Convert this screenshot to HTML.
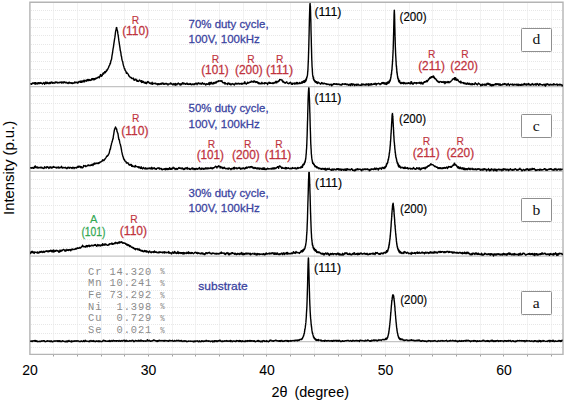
<!DOCTYPE html>
<html><head><meta charset="utf-8"><style>html,body{margin:0;padding:0;background:#fff;overflow:hidden}svg{display:block}</style></head>
<body>
<svg width="567" height="403" viewBox="0 0 567 403">
<rect width="567" height="403" fill="#fff"/>
<defs>
<clipPath id="cpd"><rect x="30.0" y="2.6" width="533.2" height="104.4"/></clipPath>
<clipPath id="cpc"><rect x="30.0" y="87.0" width="533.2" height="104.7"/></clipPath>
<clipPath id="cpb"><rect x="30.0" y="171.7" width="533.2" height="104.9"/></clipPath>
<clipPath id="cpa"><rect x="30.0" y="256.6" width="533.2" height="105.4"/></clipPath>
</defs>
<path d="M53.5,3V354 M77.5,3V354 M101.5,3V354 M124.5,3V354 M148.5,3V354 M172.5,3V354 M195.5,3V354 M219.5,3V354 M243.5,3V354 M266.5,3V354 M290.5,3V354 M314.5,3V354 M338.5,3V354 M361.5,3V354 M385.5,3V354 M409.5,3V354 M432.5,3V354 M456.5,3V354 M480.5,3V354 M503.5,3V354 M527.5,3V354 M551.5,3V354" stroke="#f2f2f2" stroke-width="1" fill="none"/>
<path d="M31,19.5H562 M31,35.5H562 M31,52.5H562 M31,69.5H562 M31,103.5H562 M31,120.5H562 M31,137.5H562 M31,154.5H562 M31,188.5H562 M31,205.5H562 M31,222.5H562 M31,239.5H562 M31,273.5H562 M31,290.5H562 M31,307.5H562 M31,324.5H562 M31,10.5H562 M31,27.5H562 M31,44.5H562 M31,61.5H562 M31,78.5H562 M31,95.5H562 M31,112.5H562 M31,128.5H562 M31,145.5H562 M31,162.5H562 M31,179.5H562 M31,196.5H562 M31,213.5H562 M31,230.5H562 M31,247.5H562 M31,264.5H562 M31,281.5H562 M31,298.5H562 M31,315.5H562 M31,333.5H562 M31,347.5H562" stroke="#e7e7e7" stroke-width="1" stroke-dasharray="1,1" fill="none"/>
<path d="M30,86.6H563 M30,171.3H563 M30,256.2H563 M30,341.6H563" stroke="#c4c4c4" stroke-width="1.3" fill="none"/>
<path d="M53.5,354V356.5 M77.5,354V356.5 M101.5,354V356.5 M124.5,354V356.5 M148.5,354V356.5 M172.5,354V356.5 M195.5,354V356.5 M219.5,354V356.5 M243.5,354V356.5 M266.5,354V356.5 M290.5,354V356.5 M314.5,354V356.5 M338.5,354V356.5 M361.5,354V356.5 M385.5,354V356.5 M409.5,354V356.5 M432.5,354V356.5 M456.5,354V356.5 M480.5,354V356.5 M503.5,354V356.5 M527.5,354V356.5 M551.5,354V356.5" stroke="#a0a0a0" stroke-width="1" fill="none"/>
<path d="M29.9,354.4V2.2H563V354.4Z" stroke="#b4b4b4" stroke-width="1.4" fill="none"/>
<path d="M30.30,84.33 L30.60,84.01 30.90,83.85 31.20,83.89 31.50,84.38 31.80,83.93 32.10,83.13 32.40,83.60 32.70,82.89 33.00,83.47 33.30,82.89 33.60,82.87 33.90,83.45 34.20,83.37 34.50,82.67 34.80,83.66 35.10,84.22 35.40,82.66 35.70,84.08 36.00,83.09 36.30,83.23 36.60,83.42 36.90,82.91 37.20,84.01 37.50,83.62 37.80,83.04 38.10,83.18 38.40,82.70 38.70,83.24 39.00,83.82 39.30,82.75 39.60,83.17 39.90,83.23 40.20,83.42 40.50,83.36 40.80,82.55 41.10,82.65 41.40,83.37 41.70,83.25 42.00,83.49 42.30,83.95 42.60,84.08 42.90,83.36 43.20,83.05 43.50,83.35 43.80,82.36 44.10,83.19 44.40,82.80 44.70,84.25 45.00,83.49 45.30,83.18 45.60,82.97 45.90,81.93 46.20,83.26 46.50,83.62 46.80,82.60 47.10,83.17 47.40,83.21 47.70,82.31 48.00,83.40 48.30,83.62 48.60,83.19 48.90,83.08 49.20,83.45 49.50,82.49 49.80,83.19 50.10,83.51 50.40,82.47 50.70,83.33 51.00,82.66 51.30,81.93 51.60,82.75 51.90,82.38 52.20,82.92 52.50,82.30 52.80,83.28 53.10,82.58 53.40,83.09 53.70,82.74 54.00,82.74 54.30,83.26 54.60,82.74 54.90,82.37 55.20,81.94 55.50,82.90 55.80,82.67 56.10,82.18 56.40,82.43 56.70,82.01 57.00,82.15 57.30,82.35 57.60,82.97 57.90,82.87 58.20,82.36 58.50,82.91 58.80,82.85 59.10,82.51 59.40,82.79 59.70,82.15 60.00,82.14 60.30,82.35 60.60,82.22 60.90,82.64 61.20,81.86 61.50,83.06 61.80,82.16 62.10,82.45 62.40,81.97 62.70,82.83 63.00,83.09 63.30,82.96 63.60,82.82 63.90,81.77 64.20,82.06 64.50,82.19 64.80,81.97 65.10,82.82 65.40,82.42 65.70,82.44 66.00,82.77 66.30,82.27 66.60,82.40 66.90,82.49 67.20,83.14 67.50,83.14 67.80,83.30 68.10,83.53 68.40,82.44 68.70,82.70 69.00,82.93 69.30,82.23 69.60,82.54 69.90,83.16 70.20,83.17 70.50,83.13 70.80,82.73 71.10,82.71 71.40,83.33 71.70,82.80 72.00,83.16 72.30,83.59 72.60,82.90 72.90,82.82 73.20,83.08 73.50,83.26 73.80,83.12 74.10,82.89 74.40,82.96 74.70,82.04 75.00,82.38 75.30,82.83 75.60,82.39 75.90,82.23 76.20,82.27 76.50,82.38 76.80,82.68 77.10,82.31 77.40,82.71 77.70,83.18 78.00,82.27 78.30,82.73 78.60,82.21 78.90,81.52 79.20,81.79 79.50,81.38 79.80,82.06 80.10,81.28 80.40,82.35 80.70,82.06 81.00,81.00 81.30,82.12 81.60,82.38 81.90,81.34 82.20,82.03 82.50,80.84 82.80,81.70 83.10,80.90 83.40,81.80 83.70,80.77 84.00,80.20 84.30,81.25 84.60,81.82 84.90,80.38 85.20,80.96 85.50,80.64 85.80,80.43 86.10,80.80 86.40,81.17 86.70,79.88 87.00,80.56 87.30,80.39 87.60,79.55 87.90,80.69 88.20,80.70 88.50,79.35 88.80,80.35 89.10,79.70 89.40,79.67 89.70,80.42 90.00,79.94 90.30,79.97 90.60,80.43 90.90,80.29 91.20,80.07 91.50,79.03 91.80,78.80 92.10,79.78 92.40,78.76 92.70,79.06 93.00,78.61 93.30,79.06 93.60,78.67 93.90,79.96 94.20,78.78 94.50,79.04 94.80,78.88 95.10,79.33 95.40,78.09 95.70,78.55 96.00,78.34 96.30,78.52 96.60,78.35 96.90,77.80 97.20,77.94 97.50,77.52 97.80,77.71 98.10,77.34 98.40,76.99 98.70,77.13 99.00,77.16 99.30,77.76 99.60,76.27 99.90,76.27 100.20,76.41 100.50,74.58 100.80,74.66 101.10,74.83 101.40,75.21 101.70,76.22 102.00,75.19 102.30,75.33 102.60,74.52 102.90,73.36 103.20,73.14 103.50,74.15 103.80,73.41 104.10,72.38 104.40,72.97 104.70,71.74 105.00,72.73 105.30,72.71 105.60,71.62 105.90,71.17 106.20,71.61 106.50,70.39 106.80,70.78 107.10,69.49 107.40,69.96 107.70,69.25 108.00,68.59 108.30,67.93 108.60,67.74 108.90,66.13 109.20,66.05 109.50,65.19 109.80,64.85 110.10,63.22 110.40,63.59 110.70,61.80 111.00,60.33 111.30,60.11 111.60,58.80 111.90,56.48 112.20,54.57 112.50,53.12 112.80,50.75 113.10,48.71 113.40,47.30 113.70,44.82 114.00,42.81 114.30,40.98 114.60,38.86 114.90,37.15 115.20,34.86 115.50,32.20 115.80,30.52 116.10,29.60 116.40,27.67 116.70,27.58 117.00,29.57 117.30,30.23 117.60,31.33 117.90,33.88 118.20,35.43 118.50,37.77 118.80,40.19 119.10,42.18 119.40,44.04 119.70,46.17 120.00,48.10 120.30,50.59 120.60,51.48 120.90,53.18 121.20,55.87 121.50,56.37 121.80,58.78 122.10,60.20 122.40,60.95 122.70,61.66 123.00,63.62 123.30,64.83 123.60,65.99 123.90,66.60 124.20,67.98 124.50,68.90 124.80,68.66 125.10,70.44 125.40,70.62 125.70,70.98 126.00,71.71 126.30,73.24 126.60,73.34 126.90,72.45 127.20,73.47 127.50,73.58 127.80,73.76 128.10,74.20 128.40,74.37 128.70,75.90 129.00,75.67 129.30,76.29 129.60,76.49 129.90,76.72 130.20,77.58 130.50,77.65 130.80,77.39 131.10,77.44 131.40,77.79 131.70,78.53 132.00,78.29 132.30,78.43 132.60,78.29 132.90,78.40 133.20,78.82 133.50,78.24 133.80,79.98 134.10,79.24 134.40,79.50 134.70,80.25 135.00,79.73 135.30,79.60 135.60,79.28 135.90,79.10 136.20,80.08 136.50,80.74 136.80,80.10 137.10,81.24 137.40,80.35 137.70,80.68 138.00,81.35 138.30,81.21 138.60,81.40 138.90,80.70 139.20,80.47 139.50,80.00 139.80,80.45 140.10,80.66 140.40,80.67 140.70,81.55 141.00,81.19 141.30,80.63 141.60,82.50 141.90,81.10 142.20,80.97 142.50,82.18 142.80,82.31 143.10,81.49 143.40,81.51 143.70,81.85 144.00,82.88 144.30,82.41 144.60,82.33 144.90,82.76 145.20,83.35 145.50,82.34 145.80,82.84 146.10,82.39 146.40,83.67 146.70,83.30 147.00,82.72 147.30,82.04 147.60,82.49 147.90,81.45 148.20,82.57 148.50,82.01 148.80,82.14 149.10,82.52 149.40,82.80 149.70,83.31 150.00,83.48 150.30,83.39 150.60,82.98 150.90,83.76 151.20,83.52 151.50,84.02 151.80,83.10 152.10,82.28 152.40,83.19 152.70,84.25 153.00,83.50 153.30,83.17 153.60,83.58 153.90,83.42 154.20,83.50 154.50,83.19 154.80,83.54 155.10,83.69 155.40,83.34 155.70,83.14 156.00,83.67 156.30,84.02 156.60,83.89 156.90,83.84 157.20,83.85 157.50,84.73 157.80,83.74 158.10,84.05 158.40,84.41 158.70,83.59 159.00,83.65 159.30,84.06 159.60,84.42 159.90,83.92 160.20,84.02 160.50,83.93 160.80,83.38 161.10,84.36 161.40,83.78 161.70,83.15 162.00,83.79 162.30,83.10 162.60,83.38 162.90,83.79 163.20,83.39 163.50,84.22 163.80,83.15 164.10,83.87 164.40,83.94 164.70,84.25 165.00,83.96 165.30,83.60 165.60,83.51 165.90,83.51 166.20,84.07 166.50,83.37 166.80,83.92 167.10,83.78 167.40,84.04 167.70,83.94 168.00,85.07 168.30,83.87 168.60,84.16 168.90,84.08 169.20,84.13 169.50,83.97 169.80,83.88 170.10,84.03 170.40,82.90 170.70,83.45 171.00,83.12 171.30,83.93 171.60,83.52 171.90,83.81 172.20,84.21 172.50,84.77 172.80,84.38 173.10,84.21 173.40,84.67 173.70,83.79 174.00,83.42 174.30,84.23 174.60,84.40 174.90,84.90 175.20,85.14 175.50,83.55 175.80,85.01 176.10,84.56 176.40,84.22 176.70,83.99 177.00,84.82 177.30,83.79 177.60,83.49 177.90,83.68 178.20,82.98 178.50,83.69 178.80,83.63 179.10,84.01 179.40,84.21 179.70,83.80 180.00,84.92 180.30,84.03 180.60,84.91 180.90,83.95 181.20,84.76 181.50,84.03 181.80,84.16 182.10,83.64 182.40,82.77 182.70,83.23 183.00,83.74 183.30,83.99 183.60,83.12 183.90,82.90 184.20,83.52 184.50,83.88 184.80,83.79 185.10,83.74 185.40,84.34 185.70,84.29 186.00,84.10 186.30,83.30 186.60,83.76 186.90,83.69 187.20,83.20 187.50,84.21 187.80,83.89 188.10,83.64 188.40,84.44 188.70,84.16 189.00,84.20 189.30,84.39 189.60,84.22 189.90,83.42 190.20,83.83 190.50,84.47 190.80,83.79 191.10,84.19 191.40,84.40 191.70,84.81 192.00,84.68 192.30,84.44 192.60,83.91 192.90,84.34 193.20,84.24 193.50,84.01 193.80,84.71 194.10,84.40 194.40,83.79 194.70,84.54 195.00,83.81 195.30,84.08 195.60,83.19 195.90,83.87 196.20,83.53 196.50,83.57 196.80,83.15 197.10,84.69 197.40,83.55 197.70,83.55 198.00,83.74 198.30,83.27 198.60,83.58 198.90,82.84 199.20,83.54 199.50,83.39 199.80,83.93 200.10,83.94 200.40,83.43 200.70,83.31 201.00,83.56 201.30,84.20 201.60,83.97 201.90,83.86 202.20,82.92 202.50,82.71 202.80,83.66 203.10,83.86 203.40,83.76 203.70,84.16 204.00,83.93 204.30,83.49 204.60,83.63 204.90,84.11 205.20,84.13 205.50,84.11 205.80,85.15 206.10,84.04 206.40,84.16 206.70,83.64 207.00,83.87 207.30,84.23 207.60,84.25 207.90,83.95 208.20,84.18 208.50,84.01 208.80,83.10 209.10,82.42 209.40,84.69 209.70,83.97 210.00,83.53 210.30,82.76 210.60,82.90 210.90,83.95 211.20,82.15 211.50,83.17 211.80,83.64 212.10,83.30 212.40,83.53 212.70,83.13 213.00,84.17 213.30,82.69 213.60,82.51 213.90,83.10 214.20,83.48 214.50,82.73 214.80,83.08 215.10,82.32 215.40,81.98 215.70,83.02 216.00,83.01 216.30,82.90 216.60,81.93 216.90,81.49 217.20,81.35 217.50,81.62 217.80,81.82 218.10,81.64 218.40,80.64 218.70,81.26 219.00,81.06 219.30,80.99 219.60,80.89 219.90,80.80 220.20,81.18 220.50,80.98 220.80,81.06 221.10,80.71 221.40,81.25 221.70,81.33 222.00,80.76 222.30,82.19 222.60,82.14 222.90,82.85 223.20,82.53 223.50,82.69 223.80,82.94 224.10,82.97 224.40,82.93 224.70,82.48 225.00,84.16 225.30,82.82 225.60,83.37 225.90,83.80 226.20,83.69 226.50,83.78 226.80,83.83 227.10,83.99 227.40,83.52 227.70,84.57 228.00,82.87 228.30,83.41 228.60,83.18 228.90,83.11 229.20,83.48 229.50,84.17 229.80,83.45 230.10,83.65 230.40,84.46 230.70,84.40 231.00,84.92 231.30,84.45 231.60,84.03 231.90,83.77 232.20,84.08 232.50,83.99 232.80,83.56 233.10,84.22 233.40,84.17 233.70,84.17 234.00,84.11 234.30,85.02 234.60,84.48 234.90,84.38 235.20,83.52 235.50,83.15 235.80,83.35 236.10,83.66 236.40,83.49 236.70,83.64 237.00,84.20 237.30,83.92 237.60,83.38 237.90,83.62 238.20,83.52 238.50,83.88 238.80,83.31 239.10,83.73 239.40,84.10 239.70,83.82 240.00,83.41 240.30,83.53 240.60,83.83 240.90,83.97 241.20,84.09 241.50,83.64 241.80,83.11 242.10,84.23 242.40,83.73 242.70,83.76 243.00,83.70 243.30,83.11 243.60,83.36 243.90,83.47 244.20,83.66 244.50,83.11 244.80,81.62 245.10,82.91 245.40,83.22 245.70,83.68 246.00,83.49 246.30,84.21 246.60,83.67 246.90,83.55 247.20,83.29 247.50,82.23 247.80,83.18 248.10,83.07 248.40,82.58 248.70,83.04 249.00,82.84 249.30,82.32 249.60,82.33 249.90,82.12 250.20,82.25 250.50,81.93 250.80,82.31 251.10,81.18 251.40,81.83 251.70,81.12 252.00,81.56 252.30,81.93 252.60,81.66 252.90,81.52 253.20,81.55 253.50,82.19 253.80,81.01 254.10,81.94 254.40,80.97 254.70,81.53 255.00,81.92 255.30,81.59 255.60,82.15 255.90,82.48 256.20,81.75 256.50,82.33 256.80,82.26 257.10,81.65 257.40,82.46 257.70,82.24 258.00,83.24 258.30,82.38 258.60,83.56 258.90,82.69 259.20,83.80 259.50,83.23 259.80,83.21 260.10,83.38 260.40,83.43 260.70,83.74 261.00,83.97 261.30,83.17 261.60,82.88 261.90,82.30 262.20,83.26 262.50,83.74 262.80,83.57 263.10,83.47 263.40,83.32 263.70,83.25 264.00,83.45 264.30,83.78 264.60,82.75 264.90,83.68 265.20,82.63 265.50,83.05 265.80,82.91 266.10,83.18 266.40,83.04 266.70,83.15 267.00,83.60 267.30,83.13 267.60,84.51 267.90,83.18 268.20,82.96 268.50,83.00 268.80,82.77 269.10,82.18 269.40,83.11 269.70,83.36 270.00,82.62 270.30,83.28 270.60,82.79 270.90,83.28 271.20,83.41 271.50,83.42 271.80,83.35 272.10,82.81 272.40,83.52 272.70,82.98 273.00,83.34 273.30,83.52 273.60,83.02 273.90,82.50 274.20,83.19 274.50,82.33 274.80,82.31 275.10,82.11 275.40,82.83 275.70,82.27 276.00,81.22 276.30,82.41 276.60,82.87 276.90,82.61 277.20,81.43 277.50,81.63 277.80,81.76 278.10,81.85 278.40,81.38 278.70,80.70 279.00,81.17 279.30,80.77 279.60,79.58 279.90,79.75 280.20,79.83 280.50,79.58 280.80,79.77 281.10,79.92 281.40,80.00 281.70,80.01 282.00,79.80 282.30,81.02 282.60,81.64 282.90,82.02 283.20,81.25 283.50,81.35 283.80,82.07 284.10,82.47 284.40,82.38 284.70,82.91 285.00,82.62 285.30,83.23 285.60,82.49 285.90,82.63 286.20,82.48 286.50,82.29 286.80,81.79 287.10,82.53 287.40,83.21 287.70,83.22 288.00,83.12 288.30,83.50 288.60,83.65 288.90,83.74 289.20,82.97 289.50,83.21 289.80,82.94 290.10,82.59 290.40,82.29 290.70,83.01 291.00,82.81 291.30,84.23 291.60,83.40 291.90,83.40 292.20,83.38 292.50,84.40 292.80,83.25 293.10,83.57 293.40,83.28 293.70,83.52 294.00,83.52 294.30,83.97 294.60,82.88 294.90,83.45 295.20,84.13 295.50,83.20 295.80,83.38 296.10,83.12 296.40,82.42 296.70,83.52 297.00,84.03 297.30,83.26 297.60,82.60 297.90,83.43 298.20,83.29 298.50,83.68 298.80,83.62 299.10,83.10 299.40,83.37 299.70,82.37 300.00,83.54 300.30,83.07 300.60,83.38 300.90,83.34 301.20,82.76 301.40,82.82 301.50,82.50 301.60,81.99 301.70,82.81 301.80,82.93 301.90,82.39 302.00,83.16 302.10,82.83 302.20,82.92 302.30,82.33 302.40,81.83 302.50,82.86 302.60,82.72 302.70,82.34 302.80,82.14 302.90,82.13 303.00,82.12 303.10,81.88 303.20,81.15 303.30,82.29 303.40,81.29 303.50,81.79 303.60,81.80 303.70,82.04 303.80,81.21 303.90,82.42 304.00,82.17 304.10,82.20 304.20,82.40 304.30,81.47 304.40,80.42 304.50,81.91 304.60,82.31 304.70,82.14 304.80,81.27 304.90,81.35 305.00,81.40 305.10,80.34 305.20,80.72 305.30,80.59 305.40,81.44 305.50,80.29 305.60,81.12 305.70,80.26 305.80,79.32 305.90,80.90 306.00,79.28 306.10,79.81 306.20,80.11 306.30,78.87 306.40,78.32 306.50,79.11 306.60,78.39 306.70,77.49 306.80,77.23 306.90,77.19 307.00,77.42 307.10,76.37 307.20,76.31 307.30,76.25 307.40,75.45 307.50,74.80 307.60,73.86 307.70,71.42 307.80,71.71 307.90,69.89 308.00,68.09 308.10,65.75 308.20,63.38 308.30,61.29 308.40,59.27 308.50,55.62 308.60,52.58 308.70,49.15 308.80,46.19 308.90,41.51 309.00,37.39 309.10,34.13 309.20,28.54 309.30,24.93 309.40,19.46 309.50,16.65 309.60,12.94 309.70,9.93 309.80,6.90 309.90,4.49 310.00,3.92 310.10,3.35 310.20,5.01 310.30,6.03 310.40,6.08 310.50,10.15 310.60,12.33 310.70,16.67 310.80,19.86 310.90,23.30 311.00,29.56 311.10,33.53 311.20,36.66 311.30,40.44 311.40,45.43 311.50,48.82 311.60,52.90 311.70,56.76 311.80,60.20 311.90,61.77 312.00,65.10 312.10,67.04 312.20,67.98 312.30,68.91 312.40,71.59 312.50,72.70 312.60,74.64 312.70,75.10 312.80,75.58 312.90,76.71 313.00,76.00 313.10,77.13 313.20,77.39 313.30,78.76 313.40,78.58 313.50,77.24 313.60,79.61 313.70,78.85 313.80,79.84 313.90,79.45 314.00,79.96 314.10,80.30 314.20,80.25 314.30,79.87 314.40,81.06 314.50,80.73 314.60,80.66 314.70,81.08 314.80,80.63 314.90,81.79 315.00,81.14 315.10,81.32 315.20,81.42 315.30,80.96 315.40,80.95 315.50,81.66 315.60,81.81 315.70,82.33 315.80,82.02 315.90,81.43 316.00,82.21 316.10,82.42 316.20,82.56 316.30,82.34 316.40,81.72 316.50,82.82 316.60,82.06 316.70,82.68 316.80,81.80 316.90,82.87 317.00,82.25 317.10,83.11 317.40,83.54 317.70,83.34 318.00,82.27 318.30,82.29 318.60,82.23 318.90,82.80 319.20,82.91 319.50,83.06 319.80,83.36 320.10,83.70 320.40,83.78 320.70,84.19 321.00,83.40 321.30,83.47 321.60,82.58 321.90,82.87 322.20,83.19 322.50,83.04 322.80,83.69 323.10,84.01 323.40,83.36 323.70,83.31 324.00,83.27 324.30,83.55 324.60,83.28 324.90,83.71 325.20,83.68 325.50,83.73 325.80,83.96 326.10,83.71 326.40,83.82 326.70,84.55 327.00,83.93 327.30,84.42 327.60,84.24 327.90,84.16 328.20,84.26 328.50,84.17 328.80,84.60 329.10,84.41 329.40,84.49 329.70,85.08 330.00,84.41 330.30,84.84 330.60,84.37 330.90,84.71 331.20,84.17 331.50,84.58 331.80,85.72 332.10,84.93 332.40,84.92 332.70,84.51 333.00,84.69 333.30,83.74 333.60,83.77 333.90,84.21 334.20,84.27 334.50,83.64 334.80,83.88 335.10,83.96 335.40,84.18 335.70,83.89 336.00,83.86 336.30,84.46 336.60,83.78 336.90,84.13 337.20,84.26 337.50,84.04 337.80,84.53 338.10,84.18 338.40,84.28 338.70,83.94 339.00,84.10 339.30,84.68 339.60,84.67 339.90,84.35 340.20,84.72 340.50,84.67 340.80,84.68 341.10,85.26 341.40,84.32 341.70,84.57 342.00,84.48 342.30,84.10 342.60,83.67 342.90,84.41 343.20,84.19 343.50,84.06 343.80,84.09 344.10,84.17 344.40,83.87 344.70,84.46 345.00,83.63 345.30,84.38 345.60,83.77 345.90,84.25 346.20,84.70 346.50,84.28 346.80,84.17 347.10,84.58 347.40,84.24 347.70,84.24 348.00,84.34 348.30,85.23 348.60,84.97 348.90,84.97 349.20,84.31 349.50,85.12 349.80,84.37 350.10,85.16 350.40,84.35 350.70,85.49 351.00,83.81 351.30,84.89 351.60,84.71 351.90,83.70 352.20,84.43 352.50,85.21 352.80,85.14 353.10,83.97 353.40,84.47 353.70,84.21 354.00,84.29 354.30,84.43 354.60,85.46 354.90,84.73 355.20,84.56 355.50,84.52 355.80,84.96 356.10,85.00 356.40,84.34 356.70,85.33 357.00,84.15 357.30,84.39 357.60,84.60 357.90,85.03 358.20,84.24 358.50,84.58 358.80,85.08 359.10,84.87 359.40,85.17 359.70,85.22 360.00,84.97 360.30,85.22 360.60,85.37 360.90,84.88 361.20,85.48 361.50,83.89 361.80,84.25 362.10,85.15 362.40,84.62 362.70,84.07 363.00,84.40 363.30,84.72 363.60,84.11 363.90,84.75 364.20,84.46 364.50,84.53 364.80,84.59 365.10,85.13 365.40,84.23 365.70,84.59 366.00,84.96 366.30,84.10 366.60,83.89 366.90,84.73 367.20,84.42 367.50,84.30 367.80,84.35 368.10,83.81 368.40,85.45 368.70,83.95 369.00,84.32 369.30,84.05 369.60,84.61 369.90,85.23 370.20,84.41 370.50,84.45 370.80,83.80 371.10,84.78 371.40,84.20 371.70,83.71 372.00,84.67 372.30,84.25 372.60,84.61 372.90,84.37 373.20,84.37 373.50,84.27 373.80,83.73 374.10,83.39 374.40,84.33 374.70,83.77 375.00,84.01 375.30,83.84 375.60,83.33 375.90,83.79 376.20,84.99 376.50,83.99 376.80,84.08 377.10,83.54 377.40,83.86 377.70,83.80 378.00,83.74 378.30,83.67 378.60,83.31 378.90,83.36 379.20,83.69 379.50,83.93 379.80,83.83 380.10,84.66 380.40,83.92 380.70,83.81 381.00,83.37 381.30,83.98 381.60,82.99 381.90,82.61 382.20,82.76 382.50,83.30 382.80,82.55 383.10,83.64 383.40,83.14 383.70,82.56 384.00,83.15 384.30,84.04 384.60,82.95 384.90,82.79 385.20,83.59 385.40,83.92 385.50,83.79 385.60,83.22 385.70,83.43 385.80,83.48 385.90,83.84 386.00,84.25 386.05,83.28 386.10,83.88 386.15,83.17 386.20,83.57 386.25,82.91 386.30,82.98 386.35,83.48 386.40,82.92 386.45,83.67 386.50,83.05 386.55,83.31 386.60,83.22 386.65,83.10 386.70,83.28 386.75,83.67 386.80,84.52 386.85,82.67 386.90,83.29 386.95,83.07 387.00,82.74 387.05,83.24 387.10,82.72 387.15,83.05 387.20,83.59 387.25,82.18 387.30,83.13 387.35,83.20 387.40,82.58 387.45,83.19 387.50,83.10 387.55,82.78 387.60,83.42 387.65,82.32 387.70,83.14 387.75,82.74 387.80,82.36 387.85,82.72 387.90,82.62 387.95,83.10 388.00,82.09 388.05,82.63 388.10,82.49 388.15,83.34 388.20,82.16 388.25,83.07 388.30,81.83 388.35,82.70 388.40,82.47 388.45,82.66 388.50,82.16 388.55,81.59 388.60,81.73 388.65,82.93 388.70,82.41 388.75,81.91 388.80,82.63 388.85,81.88 388.90,81.83 388.95,81.58 389.00,82.57 389.05,82.86 389.10,81.53 389.15,82.03 389.20,82.28 389.25,82.72 389.30,80.69 389.35,81.74 389.40,81.90 389.45,80.90 389.50,81.65 389.55,81.49 389.60,81.64 389.65,80.98 389.70,81.34 389.75,80.79 389.80,81.24 389.85,80.94 389.90,80.59 389.95,80.02 390.00,81.27 390.05,80.91 390.10,80.69 390.15,79.86 390.20,79.86 390.25,80.63 390.30,80.06 390.35,79.18 390.40,79.42 390.45,79.28 390.50,78.92 390.55,78.38 390.60,79.18 390.65,78.66 390.70,78.07 390.75,77.19 390.80,77.40 390.85,77.42 390.90,77.57 390.95,76.71 391.00,77.13 391.05,76.37 391.10,75.64 391.15,74.33 391.20,74.79 391.25,74.29 391.30,74.59 391.35,74.47 391.40,74.62 391.45,73.54 391.50,72.56 391.55,73.91 391.60,72.46 391.65,71.73 391.70,71.27 391.75,70.27 391.80,70.84 391.85,70.23 391.90,70.39 391.95,69.63 392.00,68.99 392.05,68.67 392.10,67.29 392.15,66.63 392.20,66.25 392.25,64.98 392.30,64.96 392.35,64.20 392.40,64.09 392.45,63.00 392.50,61.19 392.55,61.54 392.60,61.57 392.65,58.85 392.70,58.63 392.75,58.21 392.80,56.47 392.85,55.98 392.90,55.34 392.95,53.44 393.00,53.34 393.05,52.22 393.10,49.89 393.15,49.40 393.20,48.71 393.25,46.42 393.30,45.30 393.35,43.84 393.40,41.55 393.45,40.62 393.50,38.35 393.55,35.43 393.60,34.51 393.65,32.68 393.70,30.50 393.75,27.22 393.80,25.86 393.85,24.37 393.90,21.32 393.95,20.01 394.00,18.16 394.05,15.30 394.10,14.33 394.15,12.28 394.20,12.45 394.25,10.90 394.30,10.30 394.35,10.93 394.40,11.47 394.45,12.77 394.50,14.09 394.55,14.29 394.60,16.47 394.65,19.21 394.70,21.37 394.75,23.20 394.80,27.34 394.85,28.36 394.90,29.62 394.95,32.35 395.00,34.86 395.05,36.15 395.10,36.57 395.15,39.72 395.20,41.44 395.25,44.54 395.30,43.45 395.35,47.23 395.40,47.54 395.45,49.62 395.50,50.14 395.55,51.68 395.60,53.47 395.65,53.94 395.70,55.62 395.75,55.95 395.80,56.75 395.85,57.81 395.90,58.55 395.95,59.66 396.00,61.36 396.05,60.70 396.10,61.20 396.15,62.90 396.20,64.59 396.25,64.92 396.30,65.75 396.35,66.36 396.40,65.90 396.45,66.98 396.50,66.07 396.55,67.75 396.60,68.96 396.65,68.35 396.70,68.62 396.75,69.53 396.80,70.81 396.85,71.78 396.90,72.96 396.95,72.79 397.00,71.70 397.05,71.69 397.10,73.31 397.15,74.14 397.20,73.16 397.25,74.05 397.30,74.42 397.35,74.97 397.40,75.18 397.45,75.81 397.50,76.36 397.55,76.16 397.60,76.75 397.65,77.59 397.70,76.41 397.75,76.63 397.80,77.59 397.85,78.44 397.90,77.86 397.95,78.48 398.00,78.03 398.05,78.77 398.10,78.24 398.15,79.00 398.20,79.03 398.25,79.21 398.30,79.82 398.35,79.84 398.40,79.24 398.45,80.06 398.50,79.04 398.55,80.38 398.60,81.30 398.65,80.43 398.70,80.54 398.75,80.45 398.80,80.90 398.85,80.44 398.90,81.04 398.95,80.71 399.00,80.74 399.05,81.07 399.10,81.07 399.15,80.41 399.20,82.16 399.25,81.38 399.30,80.65 399.35,81.93 399.40,81.51 399.45,81.67 399.50,81.94 399.55,81.32 399.60,80.51 399.65,81.82 399.70,82.03 399.75,82.43 399.80,81.73 399.85,82.01 399.90,82.36 399.95,82.11 400.00,82.20 400.10,82.53 400.20,82.10 400.30,83.31 400.40,82.33 400.50,82.84 400.60,82.77 400.70,82.70 400.80,83.32 400.90,83.53 401.00,83.72 401.10,83.34 401.20,82.90 401.40,83.45 401.70,82.45 402.00,83.06 402.30,83.25 402.60,83.26 402.90,82.52 403.20,82.37 403.50,83.73 403.80,82.87 404.10,82.45 404.40,82.69 404.70,83.28 405.00,83.74 405.30,83.20 405.60,83.66 405.90,83.21 406.20,83.34 406.50,83.62 406.80,83.10 407.10,83.45 407.40,83.18 407.70,83.02 408.00,83.51 408.30,82.82 408.60,83.14 408.90,82.84 409.20,83.21 409.50,83.09 409.80,83.84 410.10,83.35 410.40,83.23 410.70,83.77 411.00,81.71 411.30,82.45 411.60,81.95 411.90,83.31 412.20,83.70 412.50,83.98 412.80,83.69 413.10,83.08 413.40,84.06 413.70,83.31 414.00,82.98 414.30,82.53 414.60,83.11 414.90,82.64 415.20,82.63 415.50,82.99 415.80,83.08 416.10,82.72 416.40,83.68 416.70,82.70 417.00,82.63 417.30,83.21 417.60,83.11 417.90,83.09 418.20,82.90 418.50,83.11 418.80,82.86 419.10,82.37 419.40,83.28 419.70,82.41 420.00,82.63 420.30,82.92 420.60,82.69 420.90,83.93 421.20,82.22 421.50,82.57 421.80,83.07 422.10,83.79 422.40,83.28 422.70,82.94 423.00,84.03 423.30,82.73 423.60,82.63 423.90,82.68 424.20,81.59 424.50,81.71 424.80,82.14 425.10,81.85 425.40,82.07 425.70,81.41 426.00,81.60 426.30,80.98 426.60,80.58 426.90,81.86 427.20,81.14 427.50,81.18 427.80,80.16 428.10,80.39 428.40,79.92 428.70,78.95 429.00,79.41 429.30,78.39 429.60,78.29 429.90,77.41 430.20,78.30 430.50,77.91 430.80,77.50 431.10,76.71 431.40,76.75 431.70,77.49 432.00,76.74 432.30,76.85 432.60,76.72 432.90,76.11 433.20,77.44 433.50,76.00 433.80,77.39 434.10,77.63 434.40,77.32 434.70,78.58 435.00,78.80 435.30,78.73 435.60,78.46 435.90,79.19 436.20,79.85 436.50,79.78 436.80,80.79 437.10,80.70 437.40,81.03 437.70,81.71 438.00,81.18 438.30,81.61 438.60,82.27 438.90,82.15 439.20,82.46 439.50,82.15 439.80,81.57 440.10,81.68 440.40,81.54 440.70,81.57 441.00,81.59 441.30,82.29 441.60,81.80 441.90,81.96 442.20,82.29 442.50,82.08 442.80,82.23 443.10,81.40 443.40,82.53 443.70,82.25 444.00,82.54 444.30,82.68 444.60,81.77 444.90,83.68 445.20,82.68 445.50,82.62 445.80,81.69 446.10,82.67 446.40,82.49 446.70,82.05 447.00,82.20 447.30,82.54 447.60,81.70 447.90,81.45 448.20,82.43 448.50,81.94 448.80,81.72 449.10,82.84 449.40,81.95 449.70,81.85 450.00,82.09 450.30,81.73 450.60,81.75 450.90,81.45 451.20,80.81 451.50,80.70 451.80,80.47 452.10,80.01 452.40,79.61 452.70,79.21 453.00,78.81 453.30,78.95 453.60,78.58 453.90,78.70 454.20,79.31 454.50,77.78 454.80,78.78 455.10,80.03 455.40,77.69 455.70,79.43 456.00,78.15 456.30,79.38 456.60,80.24 456.90,80.36 457.20,79.40 457.50,79.38 457.80,79.47 458.10,80.68 458.40,80.55 458.70,81.09 459.00,81.56 459.30,81.97 459.60,82.14 459.90,82.06 460.20,81.38 460.50,82.82 460.80,81.09 461.10,82.98 461.40,82.30 461.70,82.59 462.00,82.55 462.30,82.67 462.60,82.87 462.90,82.80 463.20,82.48 463.50,83.39 463.80,82.83 464.10,83.72 464.40,83.12 464.70,82.96 465.00,83.54 465.30,83.81 465.60,83.11 465.90,83.48 466.20,84.32 466.50,83.39 466.80,83.56 467.10,84.10 467.40,83.50 467.70,82.95 468.00,83.27 468.30,84.12 468.60,84.21 468.90,84.15 469.20,84.03 469.50,83.30 469.80,84.14 470.10,84.47 470.40,83.82 470.70,84.65 471.00,84.23 471.30,84.41 471.60,84.43 471.90,83.59 472.20,84.78 472.50,83.78 472.80,84.09 473.10,83.92 473.40,84.32 473.70,84.30 474.00,84.09 474.30,84.64 474.60,84.12 474.90,83.80 475.20,82.77 475.50,83.90 475.80,83.92 476.10,83.70 476.40,83.72 476.70,84.34 477.00,84.53 477.30,84.90 477.60,84.53 477.90,83.61 478.20,83.88 478.50,83.05 478.80,83.80 479.10,83.91 479.40,83.77 479.70,84.24 480.00,84.45 480.30,84.36 480.60,85.16 480.90,85.89 481.20,84.90 481.50,84.96 481.80,84.54 482.10,84.27 482.40,85.30 482.70,84.17 483.00,84.58 483.30,84.45 483.60,84.84 483.90,84.66 484.20,84.94 484.50,84.11 484.80,84.57 485.10,85.15 485.40,84.11 485.70,84.26 486.00,85.12 486.30,84.71 486.60,84.99 486.90,83.41 487.20,84.22 487.50,83.43 487.80,83.19 488.10,83.99 488.40,84.47 488.70,83.50 489.00,83.82 489.30,84.16 489.60,84.40 489.90,83.95 490.20,85.52 490.50,84.87 490.80,84.54 491.10,84.55 491.40,85.83 491.70,85.87 492.00,84.75 492.30,85.12 492.60,85.52 492.90,84.51 493.20,84.76 493.50,85.56 493.80,84.67 494.10,84.75 494.40,84.34 494.70,84.41 495.00,84.84 495.30,84.03 495.60,83.65 495.90,83.83 496.20,84.78 496.50,84.04 496.80,83.65 497.10,83.97 497.40,84.29 497.70,84.34 498.00,83.71 498.30,84.79 498.60,84.54 498.90,84.95 499.20,83.98 499.50,84.97 499.80,84.34 500.10,83.89 500.40,85.24 500.70,84.53 501.00,84.92 501.30,84.62 501.60,85.08 501.90,85.01 502.20,84.94 502.50,84.80 502.80,83.83 503.10,83.83 503.40,84.65 503.70,84.09 504.00,84.58 504.30,84.34 504.60,83.55 504.90,83.68 505.20,83.77 505.50,84.01 505.80,84.43 506.10,84.94 506.40,85.16 506.70,84.12 507.00,84.23 507.30,85.07 507.60,84.81 507.90,84.58 508.20,83.54 508.50,84.16 508.80,84.70 509.10,84.39 509.40,85.49 509.70,84.69 510.00,84.78 510.30,84.16 510.60,84.14 510.90,84.26 511.20,84.24 511.50,84.41 511.80,84.70 512.10,84.68 512.40,85.03 512.70,84.04 513.00,84.68 513.30,84.68 513.60,85.23 513.90,84.44 514.20,84.72 514.50,84.29 514.80,84.87 515.10,84.91 515.40,84.48 515.70,84.54 516.00,84.70 516.30,84.94 516.60,84.17 516.90,84.97 517.20,84.38 517.50,85.26 517.80,85.00 518.10,84.21 518.40,84.11 518.70,85.42 519.00,84.64 519.30,84.72 519.60,84.45 519.90,84.74 520.20,85.29 520.50,85.28 520.80,84.54 521.10,85.29 521.40,84.77 521.70,84.11 522.00,85.01 522.30,84.59 522.60,85.07 522.90,84.58 523.20,84.97 523.50,84.08 523.80,84.89 524.10,84.05 524.40,84.71 524.70,83.50 525.00,84.49 525.30,84.76 525.60,84.59 525.90,84.88 526.20,83.91 526.50,85.01 526.80,85.02 527.10,83.86 527.40,84.09 527.70,84.25 528.00,84.54 528.30,84.67 528.60,83.55 528.90,84.86 529.20,84.51 529.50,84.20 529.80,85.06 530.10,84.53 530.40,85.19 530.70,84.95 531.00,84.52 531.30,85.02 531.60,84.74 531.90,84.06 532.20,83.52 532.50,84.01 532.80,84.55 533.10,84.24 533.40,85.13 533.70,84.53 534.00,84.53 534.30,84.66 534.60,84.15 534.90,84.56 535.20,84.44 535.50,83.84 535.80,84.20 536.10,85.25 536.40,84.48 536.70,84.35 537.00,83.51 537.30,83.62 537.60,84.39 537.90,84.29 538.20,84.22 538.50,85.28 538.80,84.62 539.10,84.43 539.40,85.00 539.70,83.71 540.00,84.66 540.30,84.02 540.60,84.22 540.90,84.33 541.20,84.75 541.50,84.67 541.80,84.69 542.10,84.59 542.40,85.03 542.70,85.17 543.00,84.82 543.30,84.90 543.60,84.47 543.90,84.23 544.20,85.03 544.50,84.88 544.80,85.31 545.10,84.25 545.40,86.08 545.70,84.32 546.00,84.80 546.30,85.12 546.60,84.09 546.90,84.45 547.20,83.83 547.50,84.09 547.80,83.87 548.10,84.73 548.40,84.81 548.70,84.55 549.00,85.21 549.30,85.19 549.60,84.52 549.90,84.36 550.20,84.26 550.50,84.22 550.80,85.05 551.10,84.69 551.40,84.53 551.70,84.62 552.00,84.89 552.30,84.44 552.60,84.70 552.90,84.50 553.20,85.04 553.50,84.92 553.80,83.79 554.10,84.28 554.40,84.67 554.70,84.23 555.00,84.82 555.30,84.67 555.60,84.81 555.90,84.52 556.20,84.66 556.50,84.74 556.80,83.89 557.10,84.19 557.40,84.21 557.70,85.42 558.00,84.90 558.30,84.92 558.60,84.78 558.90,84.43 559.20,84.28 559.50,84.91 559.80,84.36 560.10,85.16 560.40,84.54 560.70,84.46 561.00,84.46 561.30,84.66 561.60,84.84 561.90,85.61 562.20,85.97 562.50,84.47" stroke="#000" stroke-width="1.4" fill="none" stroke-linejoin="round" clip-path="url(#cpd)"/>
<path d="M30.30,168.34 L30.60,168.22 30.90,167.68 31.20,167.79 31.50,168.17 31.80,167.80 32.10,167.51 32.40,167.60 32.70,167.87 33.00,168.21 33.30,168.00 33.60,167.96 33.90,168.31 34.20,166.97 34.50,166.86 34.80,166.36 35.10,167.52 35.40,166.04 35.70,167.07 36.00,167.60 36.30,166.88 36.60,167.38 36.90,167.65 37.20,168.01 37.50,166.99 37.80,167.71 38.10,167.81 38.40,167.55 38.70,167.54 39.00,167.99 39.30,167.54 39.60,167.43 39.90,167.29 40.20,167.71 40.50,167.31 40.80,167.71 41.10,167.48 41.40,167.92 41.70,167.11 42.00,167.48 42.30,167.72 42.60,167.88 42.90,168.32 43.20,168.14 43.50,168.30 43.80,168.60 44.10,167.97 44.40,167.02 44.70,166.78 45.00,167.71 45.30,167.31 45.60,167.63 45.90,167.48 46.20,168.01 46.50,167.87 46.80,166.79 47.10,167.29 47.40,167.06 47.70,166.70 48.00,167.58 48.30,167.31 48.60,167.59 48.90,168.41 49.20,167.89 49.50,167.76 49.80,167.08 50.10,166.78 50.40,167.82 50.70,167.19 51.00,167.36 51.30,167.17 51.60,167.33 51.90,168.26 52.20,167.08 52.50,167.07 52.80,167.30 53.10,167.35 53.40,166.75 53.70,166.53 54.00,167.13 54.30,167.38 54.60,167.24 54.90,167.25 55.20,167.33 55.50,167.59 55.80,167.74 56.10,167.13 56.40,167.61 56.70,167.98 57.00,167.76 57.30,167.23 57.60,167.64 57.90,167.72 58.20,167.98 58.50,166.90 58.80,167.80 59.10,167.34 59.40,167.68 59.70,167.95 60.00,167.37 60.30,167.37 60.60,167.47 60.90,167.63 61.20,166.90 61.50,166.34 61.80,166.88 62.10,167.57 62.40,168.13 62.70,167.67 63.00,167.78 63.30,167.77 63.60,167.72 63.90,167.32 64.20,167.49 64.50,167.79 64.80,167.76 65.10,167.75 65.40,167.34 65.70,167.59 66.00,167.58 66.30,168.38 66.60,168.61 66.90,168.09 67.20,168.51 67.50,167.61 67.80,167.51 68.10,167.04 68.40,167.78 68.70,167.58 69.00,167.91 69.30,168.17 69.60,167.77 69.90,167.30 70.20,167.66 70.50,167.55 70.80,167.61 71.10,167.95 71.40,167.64 71.70,167.69 72.00,168.54 72.30,168.21 72.60,167.65 72.90,167.23 73.20,167.36 73.50,167.75 73.80,167.97 74.10,168.65 74.40,167.57 74.70,167.78 75.00,167.62 75.30,167.85 75.60,167.71 75.90,167.39 76.20,168.08 76.50,167.53 76.80,167.83 77.10,166.90 77.40,167.18 77.70,167.30 78.00,166.21 78.30,166.40 78.60,167.23 78.90,166.93 79.20,166.10 79.50,166.53 79.80,166.39 80.10,166.62 80.40,167.47 80.70,166.59 81.00,167.67 81.30,166.85 81.60,166.78 81.90,167.87 82.20,167.74 82.50,167.79 82.80,167.76 83.10,167.13 83.40,166.93 83.70,165.49 84.00,165.73 84.30,166.12 84.60,165.88 84.90,165.96 85.20,165.52 85.50,166.23 85.80,166.66 86.10,166.12 86.40,166.18 86.70,165.94 87.00,166.01 87.30,165.61 87.60,165.25 87.90,165.56 88.20,165.55 88.50,164.89 88.80,165.65 89.10,165.55 89.40,165.61 89.70,165.29 90.00,165.70 90.30,165.67 90.60,165.00 90.90,165.30 91.20,165.37 91.50,165.25 91.80,164.51 92.10,164.42 92.40,164.80 92.70,164.29 93.00,165.60 93.30,164.05 93.60,163.89 93.90,164.31 94.20,163.81 94.50,163.08 94.80,164.03 95.10,163.71 95.40,163.87 95.70,163.25 96.00,163.37 96.30,163.51 96.60,163.38 96.90,162.97 97.20,163.15 97.50,163.12 97.80,163.55 98.10,163.36 98.40,162.80 98.70,163.47 99.00,162.80 99.30,163.09 99.60,162.29 99.90,162.54 100.20,162.10 100.50,161.89 100.80,161.96 101.10,161.81 101.40,161.56 101.70,161.41 102.00,160.66 102.30,161.00 102.60,159.94 102.90,159.74 103.20,160.35 103.50,160.21 103.80,160.73 104.10,160.18 104.40,160.16 104.70,159.14 105.00,159.00 105.30,158.83 105.60,158.08 105.90,157.69 106.20,157.33 106.50,156.64 106.80,156.36 107.10,155.83 107.40,156.28 107.70,155.66 108.00,155.10 108.30,155.08 108.60,153.93 108.90,153.77 109.20,153.24 109.50,151.69 109.80,150.27 110.10,148.89 110.40,149.21 110.70,147.39 111.00,145.52 111.30,145.28 111.60,143.05 111.90,142.52 112.20,141.56 112.50,140.36 112.80,138.78 113.10,138.84 113.40,135.91 113.70,134.30 114.00,132.36 114.30,130.28 114.60,129.35 114.90,128.37 115.20,127.70 115.50,126.95 115.80,127.57 116.10,127.95 116.40,129.28 116.70,129.06 117.00,131.37 117.30,131.85 117.60,132.99 117.90,133.28 118.20,135.30 118.50,137.30 118.80,139.27 119.10,139.24 119.40,140.48 119.70,142.21 120.00,143.40 120.30,144.15 120.60,145.51 120.90,146.69 121.20,148.41 121.50,150.00 121.80,151.94 122.10,153.10 122.40,154.50 122.70,155.62 123.00,156.94 123.30,156.90 123.60,158.90 123.90,158.73 124.20,159.87 124.50,159.56 124.80,160.87 125.10,161.10 125.40,161.23 125.70,161.34 126.00,161.55 126.30,162.95 126.60,162.98 126.90,162.81 127.20,163.11 127.50,162.96 127.80,162.72 128.10,163.07 128.40,163.88 128.70,164.36 129.00,164.21 129.30,165.18 129.60,165.14 129.90,165.06 130.20,164.31 130.50,165.03 130.80,165.20 131.10,164.77 131.40,164.47 131.70,166.27 132.00,165.82 132.30,165.50 132.60,166.42 132.90,166.31 133.20,166.14 133.50,166.16 133.80,166.51 134.10,166.91 134.40,166.44 134.70,166.40 135.00,166.83 135.30,165.49 135.60,166.79 135.90,166.52 136.20,166.61 136.50,166.47 136.80,166.61 137.10,166.61 137.40,166.77 137.70,166.86 138.00,167.27 138.30,167.01 138.60,167.73 138.90,166.70 139.20,167.57 139.50,167.75 139.80,167.13 140.10,167.58 140.40,168.41 140.70,167.89 141.00,167.66 141.30,166.84 141.60,168.31 141.90,168.27 142.20,168.49 142.50,168.96 142.80,167.96 143.10,167.89 143.40,167.41 143.70,167.88 144.00,168.11 144.30,168.66 144.60,168.79 144.90,168.23 145.20,168.24 145.50,168.91 145.80,167.82 146.10,168.48 146.40,168.89 146.70,168.53 147.00,168.40 147.30,168.91 147.60,168.42 147.90,168.22 148.20,168.08 148.50,168.59 148.80,168.38 149.10,168.75 149.40,167.96 149.70,167.98 150.00,167.98 150.30,168.43 150.60,168.18 150.90,169.01 151.20,168.91 151.50,168.25 151.80,167.32 152.10,167.70 152.40,168.97 152.70,168.31 153.00,168.42 153.30,168.20 153.60,168.56 153.90,167.63 154.20,167.70 154.50,167.95 154.80,168.76 155.10,169.12 155.40,169.07 155.70,168.87 156.00,168.43 156.30,169.36 156.60,168.78 156.90,168.68 157.20,168.45 157.50,168.07 157.80,167.86 158.10,168.01 158.40,167.82 158.70,168.56 159.00,168.48 159.30,169.00 159.60,167.84 159.90,169.11 160.20,168.61 160.50,168.66 160.80,168.53 161.10,168.65 161.40,168.50 161.70,169.61 162.00,169.19 162.30,169.64 162.60,169.73 162.90,169.23 163.20,169.17 163.50,168.96 163.80,169.37 164.10,168.83 164.40,168.82 164.70,169.08 165.00,168.78 165.30,169.71 165.60,168.49 165.90,169.45 166.20,169.55 166.50,168.51 166.80,169.39 167.10,169.17 167.40,169.44 167.70,168.59 168.00,169.22 168.30,168.65 168.60,168.82 168.90,169.46 169.20,168.71 169.50,167.78 169.80,168.22 170.10,168.41 170.40,169.39 170.70,168.75 171.00,168.28 171.30,169.30 171.60,168.83 171.90,168.76 172.20,168.16 172.50,168.96 172.80,168.17 173.10,167.26 173.40,167.55 173.70,167.76 174.00,168.14 174.30,168.61 174.60,168.07 174.90,168.24 175.20,169.52 175.50,168.74 175.80,168.59 176.10,168.89 176.40,168.39 176.70,169.18 177.00,169.40 177.30,168.70 177.60,169.16 177.90,168.41 178.20,168.44 178.50,167.80 178.80,167.81 179.10,167.54 179.40,168.30 179.70,168.11 180.00,168.22 180.30,167.97 180.60,168.07 180.90,168.42 181.20,168.88 181.50,168.59 181.80,167.94 182.10,168.12 182.40,168.51 182.70,168.08 183.00,169.16 183.30,168.76 183.60,169.40 183.90,168.73 184.20,169.47 184.50,168.51 184.80,169.15 185.10,168.83 185.40,167.86 185.70,167.85 186.00,168.63 186.30,168.08 186.60,168.67 186.90,168.46 187.20,167.42 187.50,169.00 187.80,168.69 188.10,168.65 188.40,168.61 188.70,168.41 189.00,168.32 189.30,169.35 189.60,169.12 189.90,168.77 190.20,168.97 190.50,169.48 190.80,169.15 191.10,169.00 191.40,168.32 191.70,168.60 192.00,168.27 192.30,167.90 192.60,169.05 192.90,168.52 193.20,168.50 193.50,168.29 193.80,169.04 194.10,169.62 194.40,169.04 194.70,169.24 195.00,168.38 195.30,169.03 195.60,169.03 195.90,169.51 196.20,168.83 196.50,168.38 196.80,168.71 197.10,168.54 197.40,169.32 197.70,168.98 198.00,168.83 198.30,168.65 198.60,168.83 198.90,168.16 199.20,167.88 199.50,167.52 199.80,168.94 200.10,168.78 200.40,168.97 200.70,168.79 201.00,169.43 201.30,168.28 201.60,169.17 201.90,168.27 202.20,168.55 202.50,168.35 202.80,169.02 203.10,168.97 203.40,169.23 203.70,168.66 204.00,168.19 204.30,168.88 204.60,169.09 204.90,168.85 205.20,168.50 205.50,168.68 205.80,167.77 206.10,168.30 206.40,168.89 206.70,168.54 207.00,167.94 207.30,168.70 207.60,168.36 207.90,168.80 208.20,167.97 208.50,168.37 208.80,168.65 209.10,168.55 209.40,168.58 209.70,168.25 210.00,168.11 210.30,168.34 210.60,168.44 210.90,167.37 211.20,167.93 211.50,168.11 211.80,168.38 212.10,168.86 212.40,167.93 212.70,168.68 213.00,167.67 213.30,168.04 213.60,168.09 213.90,167.97 214.20,167.59 214.50,167.39 214.80,167.22 215.10,167.07 215.40,166.25 215.70,166.29 216.00,166.56 216.30,166.89 216.60,167.13 216.90,167.98 217.20,166.84 217.50,166.52 217.80,166.73 218.10,166.77 218.40,166.37 218.70,165.71 219.00,166.28 219.30,166.62 219.60,166.35 219.90,166.79 220.20,168.04 220.50,166.45 220.80,167.39 221.10,167.10 221.40,167.71 221.70,167.56 222.00,167.10 222.30,168.18 222.60,167.56 222.90,168.65 223.20,168.42 223.50,167.59 223.80,167.86 224.10,167.59 224.40,167.27 224.70,168.23 225.00,168.09 225.30,168.40 225.60,168.60 225.90,168.86 226.20,168.81 226.50,168.44 226.80,168.53 227.10,168.65 227.40,168.40 227.70,168.32 228.00,169.17 228.30,168.54 228.60,169.08 228.90,167.90 229.20,168.15 229.50,168.21 229.80,168.44 230.10,168.70 230.40,168.98 230.70,168.85 231.00,169.67 231.30,169.09 231.60,168.38 231.90,168.37 232.20,168.85 232.50,168.70 232.80,168.16 233.10,168.74 233.40,167.73 233.70,168.11 234.00,169.01 234.30,167.17 234.60,168.19 234.90,168.71 235.20,168.26 235.50,168.02 235.80,168.03 236.10,167.64 236.40,168.07 236.70,168.76 237.00,168.60 237.30,168.69 237.60,168.49 237.90,168.52 238.20,167.55 238.50,168.11 238.80,168.14 239.10,168.20 239.40,168.01 239.70,167.47 240.00,168.59 240.30,168.60 240.60,169.19 240.90,168.43 241.20,168.94 241.50,168.63 241.80,168.34 242.10,168.84 242.40,168.10 242.70,168.57 243.00,168.30 243.30,167.78 243.60,168.66 243.90,168.66 244.20,168.41 244.50,168.59 244.80,168.97 245.10,168.15 245.40,167.56 245.70,167.65 246.00,168.27 246.30,167.94 246.60,167.05 246.90,168.10 247.20,167.46 247.50,167.95 247.80,167.75 248.10,167.08 248.40,167.31 248.70,166.96 249.00,166.85 249.30,167.04 249.60,167.35 249.90,167.70 250.20,166.61 250.50,167.15 250.80,166.73 251.10,166.50 251.40,167.08 251.70,166.64 252.00,167.60 252.30,167.08 252.60,167.05 252.90,168.08 253.20,167.43 253.50,167.84 253.80,168.57 254.10,168.63 254.40,168.33 254.70,167.42 255.00,167.50 255.30,168.21 255.60,168.36 255.90,167.83 256.20,168.49 256.50,168.59 256.80,168.85 257.10,168.02 257.40,168.85 257.70,168.01 258.00,168.82 258.30,168.76 258.60,168.10 258.90,168.55 259.20,168.89 259.50,169.15 259.80,168.08 260.10,168.41 260.40,168.83 260.70,168.88 261.00,168.34 261.30,168.51 261.60,169.18 261.90,168.57 262.20,169.06 262.50,169.30 262.80,168.87 263.10,167.68 263.40,169.23 263.70,169.15 264.00,169.19 264.30,168.88 264.60,167.97 264.90,169.43 265.20,169.14 265.50,169.55 265.80,169.08 266.10,168.95 266.40,168.86 266.70,169.54 267.00,168.91 267.30,168.65 267.60,168.13 267.90,168.81 268.20,168.56 268.50,168.69 268.80,169.11 269.10,169.06 269.40,168.82 269.70,168.88 270.00,168.75 270.30,168.93 270.60,168.83 270.90,168.57 271.20,168.23 271.50,169.02 271.80,169.12 272.10,168.36 272.40,168.92 272.70,168.53 273.00,167.71 273.30,168.55 273.60,168.91 273.90,168.13 274.20,168.08 274.50,168.74 274.80,167.79 275.10,167.86 275.40,168.13 275.70,168.52 276.00,168.51 276.30,167.77 276.60,167.62 276.90,167.52 277.20,167.04 277.50,166.74 277.80,166.64 278.10,167.42 278.40,167.01 278.70,168.25 279.00,166.92 279.30,166.00 279.60,166.05 279.90,165.98 280.20,166.30 280.50,166.66 280.80,167.04 281.10,167.18 281.40,167.69 281.70,168.41 282.00,167.32 282.30,167.39 282.60,167.92 282.90,168.24 283.20,168.13 283.50,168.37 283.80,167.88 284.10,167.84 284.40,168.25 284.70,168.29 285.00,168.73 285.30,168.77 285.60,167.46 285.90,168.69 286.20,168.19 286.50,167.65 286.80,168.68 287.10,168.41 287.40,168.30 287.70,167.87 288.00,167.99 288.30,168.34 288.60,167.80 288.90,168.39 289.20,168.54 289.50,168.52 289.80,168.79 290.10,168.72 290.40,168.27 290.70,168.22 291.00,168.61 291.30,168.85 291.60,168.40 291.90,168.13 292.20,168.41 292.50,167.58 292.80,167.92 293.10,168.21 293.40,168.37 293.70,168.29 294.00,168.34 294.30,167.98 294.60,168.26 294.90,168.63 295.20,167.76 295.50,168.05 295.80,168.30 296.10,168.96 296.40,168.50 296.70,168.76 297.00,168.61 297.30,167.83 297.60,167.96 297.90,167.46 298.20,168.42 298.50,168.17 298.80,168.03 299.10,167.99 299.40,167.81 299.70,167.67 300.00,167.65 300.30,168.00 300.60,167.07 300.90,166.89 301.20,167.25 301.40,167.69 301.50,167.25 301.60,167.02 301.70,167.43 301.80,167.07 301.90,166.15 302.00,166.49 302.10,165.88 302.20,166.58 302.30,166.34 302.40,166.60 302.50,167.20 302.60,165.85 302.70,165.97 302.80,165.65 302.90,164.41 303.00,165.16 303.10,165.01 303.20,165.28 303.30,164.60 303.40,164.29 303.50,165.02 303.60,164.61 303.70,164.11 303.80,164.03 303.90,164.10 304.00,164.46 304.10,164.57 304.20,163.15 304.30,164.11 304.40,163.40 304.50,163.33 304.60,163.39 304.70,162.22 304.80,162.79 304.90,161.47 305.00,161.53 305.10,160.98 305.20,161.81 305.30,161.35 305.40,160.45 305.50,159.80 305.60,158.70 305.70,159.17 305.80,158.27 305.90,157.20 306.00,155.77 306.10,154.62 306.20,153.60 306.30,153.07 306.40,150.39 306.50,149.36 306.60,148.43 306.70,146.03 306.80,144.37 306.90,141.19 307.00,138.60 307.10,136.41 307.20,132.94 307.30,129.56 307.40,125.62 307.50,121.42 307.60,119.94 307.70,114.87 307.80,110.92 307.90,108.51 308.00,103.59 308.10,99.83 308.20,97.32 308.30,94.94 308.40,92.82 308.50,91.08 308.60,89.95 308.70,88.05 308.80,88.09 308.90,87.92 309.00,88.29 309.10,90.58 309.20,92.46 309.30,96.09 309.40,97.83 309.50,99.88 309.60,104.28 309.70,107.15 309.80,112.19 309.90,113.48 310.00,118.01 310.10,121.69 310.20,125.79 310.30,129.04 310.40,131.33 310.50,134.23 310.60,138.38 310.70,141.80 310.80,144.20 310.90,145.33 311.00,147.84 311.10,148.92 311.20,150.28 311.30,153.22 311.40,154.26 311.50,154.93 311.60,155.99 311.70,157.60 311.80,158.15 311.90,158.59 312.00,159.59 312.10,160.06 312.20,160.43 312.30,160.79 312.40,162.04 312.50,161.71 312.60,161.68 312.70,163.36 312.80,163.34 312.90,163.23 313.00,163.17 313.10,163.48 313.20,162.90 313.30,163.72 313.40,164.00 313.50,163.92 313.60,164.33 313.70,163.91 313.80,164.51 313.90,163.90 314.00,164.75 314.10,164.64 314.20,164.48 314.30,165.03 314.40,165.35 314.50,165.21 314.60,166.00 314.70,165.41 314.80,166.24 314.90,166.26 315.00,165.78 315.10,166.77 315.20,165.64 315.30,166.56 315.40,166.44 315.50,166.83 315.60,165.90 315.70,166.14 315.80,166.37 315.90,166.81 316.00,166.91 316.10,166.95 316.20,166.90 316.30,166.77 316.40,166.55 316.50,167.02 316.60,167.49 316.70,167.76 316.80,167.16 316.90,167.89 317.00,166.91 317.10,167.88 317.40,167.24 317.70,167.94 318.00,167.55 318.30,167.65 318.60,167.94 318.90,168.86 319.20,168.00 319.50,168.56 319.80,168.38 320.10,168.45 320.40,168.60 320.70,168.94 321.00,168.38 321.30,169.11 321.60,169.33 321.90,168.81 322.20,169.07 322.50,168.36 322.80,168.95 323.10,168.43 323.40,168.67 323.70,169.18 324.00,169.37 324.30,168.78 324.60,168.87 324.90,169.66 325.20,168.17 325.50,170.00 325.80,169.98 326.10,169.00 326.40,169.94 326.70,169.60 327.00,169.60 327.30,168.42 327.60,169.14 327.90,169.22 328.20,169.15 328.50,169.20 328.80,169.29 329.10,168.27 329.40,169.41 329.70,169.25 330.00,169.55 330.30,169.42 330.60,169.67 330.90,169.75 331.20,170.32 331.50,169.20 331.80,170.19 332.10,169.42 332.40,169.20 332.70,169.03 333.00,170.04 333.30,169.06 333.60,169.97 333.90,169.63 334.20,169.16 334.50,169.02 334.80,169.57 335.10,169.51 335.40,169.83 335.70,169.59 336.00,169.33 336.30,169.65 336.60,168.83 336.90,169.56 337.20,169.17 337.50,168.75 337.80,168.84 338.10,169.19 338.40,168.63 338.70,169.94 339.00,169.75 339.30,168.88 339.60,169.27 339.90,170.13 340.20,169.76 340.50,169.34 340.80,169.04 341.10,169.32 341.40,170.38 341.70,169.90 342.00,169.11 342.30,169.83 342.60,169.44 342.90,169.36 343.20,169.48 343.50,169.55 343.80,170.40 344.10,169.23 344.40,169.38 344.70,170.01 345.00,170.05 345.30,169.06 345.60,170.38 345.90,170.03 346.20,169.00 346.50,170.37 346.80,169.00 347.10,169.89 347.40,169.12 347.70,168.83 348.00,169.89 348.30,169.67 348.60,169.42 348.90,169.55 349.20,169.54 349.50,169.59 349.80,169.37 350.10,170.18 350.40,169.77 350.70,169.49 351.00,169.18 351.30,169.12 351.60,168.65 351.90,169.31 352.20,169.19 352.50,170.29 352.80,169.51 353.10,169.86 353.40,170.19 353.70,170.66 354.00,170.66 354.30,170.23 354.60,170.89 354.90,169.73 355.20,169.63 355.50,170.60 355.80,169.14 356.10,169.97 356.40,169.81 356.70,169.08 357.00,169.26 357.30,169.75 357.60,168.69 357.90,169.10 358.20,169.68 358.50,169.29 358.80,169.60 359.10,169.32 359.40,169.29 359.70,169.17 360.00,169.16 360.30,169.45 360.60,169.19 360.90,170.14 361.20,169.71 361.50,169.76 361.80,170.74 362.10,169.67 362.40,169.30 362.70,169.62 363.00,169.02 363.30,169.60 363.60,169.86 363.90,169.46 364.20,168.92 364.50,168.98 364.80,169.28 365.10,169.60 365.40,168.97 365.70,169.00 366.00,169.60 366.30,169.22 366.60,169.24 366.90,169.28 367.20,168.80 367.50,169.15 367.80,169.74 368.10,169.31 368.40,169.37 368.70,169.66 369.00,169.77 369.30,170.74 369.60,169.41 369.90,169.71 370.20,170.41 370.50,169.48 370.80,169.53 371.10,168.69 371.40,169.64 371.70,169.53 372.00,169.44 372.30,168.98 372.60,169.22 372.90,169.05 373.20,169.44 373.50,169.09 373.80,169.47 374.10,168.63 374.40,169.10 374.70,168.09 375.00,169.11 375.30,169.29 375.60,168.66 375.90,169.56 376.20,168.08 376.50,168.54 376.80,168.48 377.10,168.84 377.40,169.03 377.70,168.57 378.00,168.73 378.30,169.96 378.60,168.95 378.90,169.27 379.20,168.11 379.50,168.36 379.80,168.40 380.10,168.01 380.40,168.07 380.70,168.42 381.00,168.71 381.30,169.26 381.60,169.16 381.90,167.83 382.20,167.26 382.50,167.78 382.80,167.79 383.10,168.10 383.40,168.26 383.70,167.51 384.00,168.66 384.30,167.84 384.60,166.90 384.90,167.98 385.20,167.56 385.40,167.25 385.50,166.27 385.60,166.66 385.70,166.68 385.80,166.36 385.90,166.54 386.00,166.60 386.05,166.61 386.10,166.39 386.15,165.66 386.20,166.38 386.25,165.63 386.30,165.78 386.35,165.17 386.40,164.54 386.45,164.03 386.50,165.00 386.55,164.52 386.60,164.73 386.65,165.03 386.70,163.84 386.75,163.63 386.80,164.44 386.85,164.37 386.90,163.97 386.95,163.74 387.00,163.14 387.05,163.70 387.10,163.27 387.15,163.68 387.20,163.79 387.25,162.96 387.30,163.27 387.35,163.02 387.40,163.11 387.45,163.35 387.50,162.79 387.55,162.65 387.60,162.53 387.65,161.80 387.70,161.82 387.75,161.81 387.80,162.06 387.85,161.91 387.90,162.20 387.95,160.43 388.00,160.74 388.05,159.74 388.10,160.12 388.15,159.39 388.20,160.54 388.25,160.13 388.30,159.03 388.35,159.50 388.40,159.47 388.45,159.74 388.50,159.05 388.55,158.47 388.60,158.11 388.65,158.22 388.70,157.80 388.75,157.14 388.80,156.50 388.85,157.37 388.90,156.18 388.95,156.12 389.00,156.37 389.05,155.63 389.10,155.93 389.15,154.43 389.20,155.08 389.25,153.64 389.30,153.19 389.35,153.07 389.40,153.31 389.45,152.51 389.50,151.75 389.55,152.74 389.60,151.16 389.65,151.20 389.70,150.98 389.75,150.14 389.80,150.15 389.85,149.84 389.90,148.97 389.95,149.12 390.00,147.71 390.05,146.93 390.10,147.13 390.15,145.92 390.20,146.14 390.25,145.30 390.30,144.50 390.35,144.52 390.40,143.88 390.45,141.19 390.50,142.13 390.55,141.75 390.60,141.30 390.65,139.98 390.70,138.91 390.75,138.97 390.80,138.57 390.85,136.09 390.90,135.66 390.95,135.43 391.00,133.33 391.05,133.76 391.10,133.83 391.15,131.72 391.20,131.62 391.25,130.04 391.30,130.00 391.35,129.23 391.40,128.74 391.45,126.97 391.50,126.71 391.55,125.33 391.60,123.79 391.65,124.24 391.70,121.88 391.75,121.52 391.80,122.28 391.85,120.31 391.90,118.29 391.95,118.35 392.00,117.03 392.05,116.70 392.10,115.13 392.15,115.91 392.20,114.18 392.25,115.28 392.30,115.05 392.35,115.25 392.40,116.22 392.45,113.37 392.50,113.84 392.55,114.21 392.60,114.83 392.65,116.30 392.70,115.87 392.75,116.23 392.80,116.45 392.85,117.49 392.90,118.36 392.95,119.39 393.00,119.26 393.05,121.09 393.10,122.44 393.15,123.20 393.20,123.02 393.25,125.41 393.30,126.34 393.35,126.94 393.40,126.86 393.45,127.64 393.50,129.60 393.55,129.82 393.60,130.54 393.65,132.91 393.70,133.80 393.75,134.49 393.80,135.77 393.85,136.33 393.90,135.83 393.95,138.08 394.00,138.21 394.05,139.16 394.10,140.59 394.15,140.61 394.20,141.99 394.25,141.75 394.30,142.14 394.35,142.59 394.40,143.56 394.45,143.26 394.50,144.80 394.55,145.35 394.60,145.67 394.65,145.24 394.70,145.82 394.75,147.97 394.80,147.53 394.85,149.34 394.90,148.65 394.95,149.71 395.00,149.17 395.05,150.06 395.10,150.73 395.15,151.59 395.20,152.60 395.25,152.60 395.30,151.69 395.35,152.86 395.40,153.14 395.45,153.26 395.50,154.27 395.55,155.13 395.60,154.40 395.65,155.56 395.70,156.03 395.75,155.08 395.80,156.86 395.85,157.12 395.90,156.70 395.95,157.72 396.00,157.26 396.05,157.99 396.10,158.01 396.15,157.52 396.20,158.35 396.25,158.39 396.30,158.48 396.35,158.39 396.40,158.82 396.45,158.83 396.50,160.22 396.55,158.93 396.60,160.14 396.65,160.02 396.70,159.92 396.75,161.08 396.80,160.54 396.85,161.70 396.90,161.22 396.95,161.63 397.00,161.58 397.05,162.11 397.10,162.41 397.15,161.90 397.20,162.26 397.25,163.24 397.30,162.29 397.35,163.54 397.40,162.65 397.45,162.70 397.50,162.30 397.55,162.82 397.60,162.53 397.65,163.19 397.70,163.88 397.75,163.65 397.80,163.50 397.85,163.42 397.90,163.67 397.95,163.42 398.00,163.60 398.05,165.16 398.10,164.47 398.15,164.03 398.20,164.84 398.25,165.32 398.30,164.45 398.35,164.79 398.40,164.37 398.45,164.32 398.50,165.74 398.55,166.75 398.60,164.97 398.65,164.66 398.70,166.10 398.75,166.02 398.80,165.85 398.85,166.36 398.90,165.64 398.95,165.98 399.00,166.28 399.05,165.86 399.10,166.28 399.15,166.03 399.20,166.41 399.25,166.34 399.30,165.46 399.35,166.43 399.40,165.82 399.45,166.14 399.50,165.84 399.55,166.96 399.60,166.50 399.65,166.51 399.70,167.25 399.75,167.05 399.80,166.68 399.85,165.90 399.90,167.12 399.95,166.75 400.00,166.73 400.10,167.26 400.20,166.72 400.30,167.00 400.40,167.47 400.50,167.37 400.60,166.90 400.70,167.83 400.80,167.73 400.90,168.06 401.00,167.24 401.10,167.36 401.20,167.73 401.40,167.48 401.70,167.37 402.00,167.26 402.30,167.35 402.60,167.46 402.90,167.72 403.20,168.42 403.50,168.21 403.80,167.56 404.10,168.01 404.40,168.51 404.70,168.19 405.00,166.93 405.30,167.59 405.60,168.45 405.90,168.32 406.20,168.31 406.50,168.14 406.80,168.14 407.10,167.60 407.40,168.50 407.70,167.65 408.00,168.13 408.30,168.93 408.60,168.83 408.90,168.39 409.20,168.42 409.50,168.19 409.80,168.25 410.10,168.39 410.40,169.09 410.70,168.37 411.00,168.83 411.30,168.81 411.60,168.84 411.90,168.60 412.20,169.07 412.50,168.87 412.80,168.69 413.10,168.30 413.40,167.44 413.70,168.50 414.00,168.63 414.30,168.36 414.60,168.76 414.90,169.21 415.20,168.80 415.50,169.33 415.80,169.16 416.10,169.05 416.40,168.90 416.70,167.63 417.00,168.56 417.30,168.06 417.60,168.63 417.90,168.54 418.20,168.40 418.50,167.97 418.80,169.14 419.10,167.99 419.40,167.82 419.70,168.91 420.00,168.14 420.30,169.80 420.60,169.36 420.90,169.42 421.20,169.23 421.50,168.89 421.80,168.05 422.10,168.21 422.40,168.55 422.70,168.08 423.00,168.23 423.30,167.80 423.60,167.77 423.90,168.23 424.20,168.43 424.50,168.10 424.80,167.66 425.10,167.33 425.40,168.87 425.70,167.39 426.00,167.32 426.30,167.20 426.60,167.69 426.90,166.78 427.20,167.17 427.50,166.87 427.80,166.04 428.10,166.38 428.40,165.61 428.70,165.88 429.00,166.08 429.30,165.45 429.60,164.96 429.90,165.02 430.20,164.97 430.50,165.09 430.80,163.79 431.10,163.83 431.40,164.79 431.70,164.48 432.00,164.56 432.30,164.70 432.60,164.61 432.90,164.60 433.20,164.98 433.50,165.52 433.80,165.75 434.10,165.98 434.40,165.87 434.70,166.65 435.00,166.05 435.30,166.24 435.60,166.57 435.90,166.51 436.20,167.12 436.50,167.21 436.80,167.21 437.10,167.02 437.40,167.35 437.70,167.46 438.00,168.50 438.30,168.16 438.60,167.81 438.90,167.70 439.20,168.55 439.50,167.63 439.80,168.11 440.10,168.06 440.40,168.46 440.70,167.66 441.00,168.25 441.30,168.15 441.60,168.40 441.90,168.64 442.20,168.12 442.50,168.00 442.80,168.54 443.10,167.64 443.40,168.38 443.70,167.95 444.00,167.78 444.30,167.54 444.60,167.43 444.90,168.39 445.20,168.28 445.50,167.81 445.80,168.05 446.10,167.48 446.40,167.20 446.70,167.08 447.00,167.99 447.30,168.13 447.60,168.44 447.90,167.30 448.20,167.24 448.50,166.50 448.80,167.26 449.10,166.98 449.40,166.89 449.70,166.65 450.00,166.56 450.30,166.49 450.60,167.25 450.90,166.62 451.20,167.37 451.50,167.19 451.80,166.38 452.10,165.92 452.40,165.92 452.70,165.94 453.00,165.02 453.30,165.49 453.60,165.35 453.90,164.75 454.20,163.51 454.50,163.15 454.80,164.64 455.10,165.03 455.40,164.38 455.70,165.03 456.00,164.97 456.30,165.11 456.60,166.15 456.90,165.82 457.20,166.78 457.50,167.49 457.80,167.00 458.10,168.08 458.40,166.77 458.70,167.79 459.00,167.43 459.30,168.54 459.60,167.58 459.90,167.33 460.20,168.46 460.50,167.21 460.80,168.14 461.10,167.73 461.40,168.73 461.70,168.18 462.00,168.68 462.30,168.41 462.60,168.06 462.90,167.72 463.20,169.48 463.50,168.88 463.80,168.34 464.10,168.74 464.40,169.33 464.70,168.29 465.00,169.86 465.30,168.78 465.60,168.71 465.90,169.43 466.20,169.08 466.50,168.67 466.80,169.58 467.10,169.48 467.40,169.66 467.70,168.69 468.00,168.50 468.30,169.13 468.60,168.70 468.90,168.05 469.20,168.79 469.50,169.38 469.80,168.85 470.10,169.66 470.40,168.88 470.70,169.02 471.00,168.34 471.30,168.67 471.60,168.92 471.90,169.23 472.20,169.05 472.50,169.52 472.80,168.32 473.10,169.41 473.40,169.50 473.70,169.20 474.00,169.52 474.30,169.12 474.60,169.51 474.90,169.09 475.20,169.40 475.50,168.77 475.80,169.64 476.10,169.23 476.40,169.85 476.70,169.13 477.00,169.05 477.30,169.40 477.60,169.17 477.90,168.86 478.20,169.24 478.50,169.14 478.80,168.82 479.10,169.05 479.40,168.92 479.70,169.51 480.00,169.00 480.30,170.33 480.60,169.65 480.90,170.06 481.20,169.17 481.50,169.85 481.80,169.66 482.10,170.15 482.40,170.12 482.70,169.08 483.00,170.11 483.30,168.85 483.60,169.91 483.90,169.18 484.20,168.69 484.50,169.56 484.80,169.35 485.10,168.98 485.40,169.18 485.70,169.83 486.00,169.20 486.30,169.55 486.60,170.84 486.90,169.59 487.20,169.93 487.50,169.82 487.80,169.90 488.10,169.89 488.40,168.56 488.70,169.53 489.00,170.34 489.30,169.58 489.60,170.70 489.90,170.06 490.20,169.46 490.50,170.23 490.80,170.62 491.10,169.31 491.40,169.63 491.70,168.82 492.00,169.00 492.30,169.48 492.60,169.83 492.90,169.95 493.20,170.00 493.50,170.90 493.80,169.39 494.10,169.03 494.40,170.03 494.70,169.88 495.00,169.20 495.30,170.55 495.60,169.53 495.90,169.27 496.20,170.11 496.50,170.26 496.80,171.04 497.10,169.40 497.40,169.43 497.70,169.77 498.00,169.61 498.30,169.68 498.60,169.39 498.90,169.00 499.20,169.45 499.50,169.91 499.80,169.96 500.10,169.39 500.40,169.93 500.70,169.92 501.00,169.54 501.30,169.53 501.60,169.63 501.90,170.73 502.20,169.55 502.50,169.16 502.80,169.53 503.10,169.42 503.40,170.20 503.70,168.70 504.00,168.98 504.30,169.62 504.60,169.28 504.90,169.08 505.20,169.63 505.50,169.03 505.80,170.00 506.10,169.63 506.40,169.41 506.70,170.01 507.00,169.30 507.30,169.33 507.60,169.75 507.90,169.11 508.20,169.89 508.50,170.66 508.80,169.67 509.10,170.14 509.40,170.05 509.70,169.17 510.00,169.11 510.30,169.68 510.60,168.75 510.90,169.66 511.20,169.74 511.50,169.83 511.80,169.82 512.10,170.20 512.40,169.49 512.70,170.20 513.00,169.85 513.30,169.85 513.60,169.56 513.90,170.03 514.20,169.18 514.50,169.69 514.80,169.74 515.10,168.86 515.40,168.75 515.70,168.91 516.00,169.29 516.30,169.54 516.60,169.85 516.90,170.40 517.20,170.41 517.50,169.96 517.80,169.80 518.10,169.29 518.40,170.00 518.70,169.72 519.00,169.23 519.30,169.22 519.60,169.24 519.90,168.19 520.20,169.26 520.50,169.50 520.80,169.53 521.10,169.35 521.40,170.04 521.70,170.44 522.00,170.94 522.30,170.56 522.60,170.30 522.90,169.96 523.20,169.41 523.50,169.81 523.80,169.45 524.10,170.01 524.40,170.49 524.70,170.37 525.00,170.20 525.30,169.72 525.60,170.02 525.90,169.50 526.20,168.80 526.50,169.71 526.80,169.69 527.10,168.96 527.40,169.51 527.70,168.73 528.00,169.60 528.30,170.34 528.60,169.54 528.90,170.36 529.20,169.88 529.50,169.45 529.80,168.97 530.10,170.00 530.40,169.92 530.70,168.95 531.00,169.33 531.30,169.88 531.60,169.00 531.90,169.39 532.20,168.34 532.50,168.83 532.80,169.58 533.10,168.82 533.40,168.76 533.70,168.73 534.00,169.11 534.30,168.54 534.60,169.11 534.90,169.52 535.20,170.15 535.50,169.54 535.80,170.61 536.10,170.26 536.40,169.79 536.70,169.96 537.00,170.25 537.30,170.11 537.60,169.80 537.90,169.46 538.20,169.87 538.50,169.62 538.80,169.63 539.10,169.70 539.40,170.39 539.70,169.14 540.00,169.63 540.30,169.18 540.60,169.99 540.90,170.08 541.20,170.16 541.50,169.47 541.80,169.68 542.10,170.02 542.40,169.80 542.70,169.81 543.00,169.69 543.30,169.64 543.60,169.40 543.90,169.56 544.20,168.68 544.50,169.07 544.80,168.62 545.10,169.08 545.40,169.03 545.70,169.80 546.00,170.33 546.30,169.49 546.60,169.65 546.90,169.95 547.20,170.25 547.50,169.80 547.80,169.55 548.10,169.35 548.40,169.20 548.70,169.57 549.00,169.64 549.30,169.47 549.60,169.13 549.90,168.67 550.20,168.97 550.50,169.17 550.80,168.86 551.10,169.50 551.40,168.78 551.70,169.28 552.00,169.59 552.30,169.83 552.60,169.62 552.90,170.07 553.20,169.35 553.50,169.33 553.80,170.17 554.10,169.38 554.40,169.62 554.70,168.83 555.00,169.91 555.30,169.61 555.60,168.94 555.90,168.61 556.20,169.55 556.50,169.65 556.80,170.12 557.10,170.34 557.40,169.59 557.70,169.33 558.00,169.25 558.30,169.29 558.60,168.96 558.90,169.29 559.20,169.76 559.50,169.13 559.80,169.10 560.10,170.01 560.40,169.03 560.70,169.49 561.00,169.71 561.30,169.34 561.60,169.77 561.90,169.44 562.20,169.20 562.50,169.57" stroke="#000" stroke-width="1.4" fill="none" stroke-linejoin="round" clip-path="url(#cpc)"/>
<path d="M30.30,253.20 L30.60,253.46 30.90,252.21 31.20,251.65 31.50,252.04 31.80,252.58 32.10,251.18 32.40,252.04 32.70,252.61 33.00,251.87 33.30,252.27 33.60,252.00 33.90,253.24 34.20,253.40 34.50,252.01 34.80,251.98 35.10,252.30 35.40,252.44 35.70,252.27 36.00,252.33 36.30,252.45 36.60,252.51 36.90,252.81 37.20,252.15 37.50,251.94 37.80,252.19 38.10,253.27 38.40,252.52 38.70,252.31 39.00,252.44 39.30,252.24 39.60,252.71 39.90,251.38 40.20,251.87 40.50,252.16 40.80,252.25 41.10,251.80 41.40,251.34 41.70,252.01 42.00,251.91 42.30,252.05 42.60,252.46 42.90,252.16 43.20,251.24 43.50,251.42 43.80,251.91 44.10,252.39 44.40,251.94 44.70,252.06 45.00,251.17 45.30,251.48 45.60,251.21 45.90,251.51 46.20,251.27 46.50,250.96 46.80,250.83 47.10,251.36 47.40,250.97 47.70,251.75 48.00,251.33 48.30,251.15 48.60,251.65 48.90,250.68 49.20,251.55 49.50,250.79 49.80,251.38 50.10,250.76 50.40,250.63 50.70,250.23 51.00,251.05 51.30,251.22 51.60,250.38 51.90,251.73 52.20,250.93 52.50,250.45 52.80,251.86 53.10,250.89 53.40,251.77 53.70,249.97 54.00,252.09 54.30,251.19 54.60,251.06 54.90,251.16 55.20,250.47 55.50,251.31 55.80,251.05 56.10,250.94 56.40,250.49 56.70,250.18 57.00,250.79 57.30,250.94 57.60,250.59 57.90,250.70 58.20,250.82 58.50,251.61 58.80,252.19 59.10,251.41 59.40,250.86 59.70,252.05 60.00,250.06 60.30,250.71 60.60,250.65 60.90,251.36 61.20,250.82 61.50,250.26 61.80,250.29 62.10,250.64 62.40,250.39 62.70,249.92 63.00,249.91 63.30,249.49 63.60,249.54 63.90,249.92 64.20,249.94 64.50,250.29 64.80,249.95 65.10,251.26 65.40,249.93 65.70,250.89 66.00,250.57 66.30,250.84 66.60,250.57 66.90,249.33 67.20,250.03 67.50,250.19 67.80,250.24 68.10,250.05 68.40,249.63 68.70,250.47 69.00,249.90 69.30,249.78 69.60,250.00 69.90,249.64 70.20,249.47 70.50,249.72 70.80,250.76 71.10,249.74 71.40,249.61 71.70,249.34 72.00,249.65 72.30,248.94 72.60,249.62 72.90,249.47 73.20,249.34 73.50,249.47 73.80,249.14 74.10,249.47 74.40,249.37 74.70,249.27 75.00,248.90 75.30,249.14 75.60,248.54 75.90,249.06 76.20,248.38 76.50,248.90 76.80,248.38 77.10,248.19 77.40,247.76 77.70,248.47 78.00,248.34 78.30,248.20 78.60,248.31 78.90,248.12 79.20,247.59 79.50,247.41 79.80,248.07 80.10,247.68 80.40,248.06 80.70,248.07 81.00,247.36 81.30,247.10 81.60,246.90 81.90,246.52 82.20,246.03 82.50,245.11 82.80,246.57 83.10,246.49 83.40,246.25 83.70,246.32 84.00,246.77 84.30,246.84 84.60,246.63 84.90,246.54 85.20,246.76 85.50,246.71 85.80,247.17 86.10,245.69 86.40,246.21 86.70,245.57 87.00,245.71 87.30,246.87 87.60,245.64 87.90,245.75 88.20,245.55 88.50,246.16 88.80,245.59 89.10,245.17 89.40,246.06 89.70,246.47 90.00,246.22 90.30,246.25 90.60,245.75 90.90,245.52 91.20,245.80 91.50,245.20 91.80,245.45 92.10,245.16 92.40,245.43 92.70,245.83 93.00,245.42 93.30,245.88 93.60,245.51 93.90,245.25 94.20,244.87 94.50,245.26 94.80,244.67 95.10,245.45 95.40,244.59 95.70,244.82 96.00,245.30 96.30,245.19 96.60,246.20 96.90,245.61 97.20,245.53 97.50,245.78 97.80,244.34 98.10,245.11 98.40,245.37 98.70,245.65 99.00,245.25 99.30,244.88 99.60,245.52 99.90,245.46 100.20,245.97 100.50,245.88 100.80,244.94 101.10,245.69 101.40,245.26 101.70,244.80 102.00,245.45 102.30,245.55 102.60,243.80 102.90,245.22 103.20,244.15 103.50,245.12 103.80,244.44 104.10,244.32 104.40,244.77 104.70,244.09 105.00,245.20 105.30,243.96 105.60,244.18 105.90,244.02 106.20,244.76 106.50,244.53 106.80,244.94 107.10,245.13 107.40,245.11 107.70,245.33 108.00,245.44 108.30,245.04 108.60,244.57 108.90,244.28 109.20,244.84 109.50,244.10 109.80,243.79 110.10,243.76 110.40,243.94 110.70,244.05 111.00,243.78 111.30,243.46 111.60,244.14 111.90,242.95 112.20,243.78 112.50,244.28 112.80,243.87 113.10,244.18 113.40,243.63 113.70,243.76 114.00,243.48 114.30,243.22 114.60,243.51 114.90,243.73 115.20,242.46 115.50,242.96 115.80,242.40 116.10,242.90 116.40,242.70 116.70,243.00 117.00,243.03 117.30,243.52 117.60,243.54 117.90,242.54 118.20,242.54 118.50,242.89 118.80,242.26 119.10,242.40 119.40,241.82 119.70,242.98 120.00,242.83 120.30,242.17 120.60,241.90 120.90,241.91 121.20,242.48 121.50,242.09 121.80,241.83 122.10,242.29 122.40,242.88 122.70,243.13 123.00,243.22 123.30,242.75 123.60,242.86 123.90,242.93 124.20,243.25 124.50,243.39 124.80,242.91 125.10,243.21 125.40,243.53 125.70,244.15 126.00,243.78 126.30,243.83 126.60,244.76 126.90,245.12 127.20,244.27 127.50,244.78 127.80,245.51 128.10,244.92 128.40,245.55 128.70,244.63 129.00,245.22 129.30,245.80 129.60,246.46 129.90,246.49 130.20,245.67 130.50,245.92 130.80,246.30 131.10,247.12 131.40,247.17 131.70,247.41 132.00,247.45 132.30,247.12 132.60,247.40 132.90,247.37 133.20,248.30 133.50,247.58 133.80,248.31 134.10,248.55 134.40,249.13 134.70,248.44 135.00,249.09 135.30,248.65 135.60,249.68 135.90,249.05 136.20,249.04 136.50,248.73 136.80,248.84 137.10,248.84 137.40,248.91 137.70,249.72 138.00,248.84 138.30,249.46 138.60,249.88 138.90,249.21 139.20,248.94 139.50,250.23 139.80,249.48 140.10,250.00 140.40,250.44 140.70,250.74 141.00,250.53 141.30,250.31 141.60,250.99 141.90,250.62 142.20,251.39 142.50,250.43 142.80,251.02 143.10,251.28 143.40,251.76 143.70,251.38 144.00,251.04 144.30,251.61 144.60,250.45 144.90,250.80 145.20,250.96 145.50,250.88 145.80,251.73 146.10,250.80 146.40,252.09 146.70,250.96 147.00,251.50 147.30,251.68 147.60,251.46 147.90,251.48 148.20,252.24 148.50,252.78 148.80,252.14 149.10,251.67 149.40,251.23 149.70,251.07 150.00,251.90 150.30,251.95 150.60,252.31 150.90,252.35 151.20,252.66 151.50,251.86 151.80,251.79 152.10,251.71 152.40,252.14 152.70,252.10 153.00,252.26 153.30,251.73 153.60,252.35 153.90,252.61 154.20,252.22 154.50,250.97 154.80,252.03 155.10,251.81 155.40,252.37 155.70,251.93 156.00,252.29 156.30,251.88 156.60,252.27 156.90,252.67 157.20,252.27 157.50,252.64 157.80,252.64 158.10,252.79 158.40,252.43 158.70,252.64 159.00,251.61 159.30,252.26 159.60,252.68 159.90,252.58 160.20,251.85 160.50,251.90 160.80,252.39 161.10,252.36 161.40,252.39 161.70,252.23 162.00,252.34 162.30,252.82 162.60,252.08 162.90,251.98 163.20,252.89 163.50,252.04 163.80,252.56 164.10,251.88 164.40,251.76 164.70,253.02 165.00,252.48 165.30,252.06 165.60,252.65 165.90,252.65 166.20,252.61 166.50,252.75 166.80,252.17 167.10,252.43 167.40,252.63 167.70,252.60 168.00,252.26 168.30,251.95 168.60,251.60 168.90,253.19 169.20,252.25 169.50,252.65 169.80,252.90 170.10,253.14 170.40,253.01 170.70,252.73 171.00,253.00 171.30,253.83 171.60,253.96 171.90,252.75 172.20,253.03 172.50,251.92 172.80,252.65 173.10,252.76 173.40,252.28 173.70,253.23 174.00,252.89 174.30,252.83 174.60,251.53 174.90,252.48 175.20,253.14 175.50,252.74 175.80,252.31 176.10,252.75 176.40,253.49 176.70,253.00 177.00,252.94 177.30,252.59 177.60,253.25 177.90,251.46 178.20,252.21 178.50,253.59 178.80,253.33 179.10,253.10 179.40,252.96 179.70,252.45 180.00,253.01 180.30,253.04 180.60,252.62 180.90,253.49 181.20,253.28 181.50,252.71 181.80,253.20 182.10,252.78 182.40,252.90 182.70,252.68 183.00,254.03 183.30,252.45 183.60,253.12 183.90,253.69 184.20,253.75 184.50,252.69 184.80,253.04 185.10,253.41 185.40,253.03 185.70,253.01 186.00,253.11 186.30,253.07 186.60,253.49 186.90,252.19 187.20,253.24 187.50,252.58 187.80,252.88 188.10,252.47 188.40,253.59 188.70,251.83 189.00,253.11 189.30,252.52 189.60,252.71 189.90,253.50 190.20,252.91 190.50,253.28 190.80,253.41 191.10,252.44 191.40,253.44 191.70,253.17 192.00,252.67 192.30,252.98 192.60,252.70 192.90,253.23 193.20,253.55 193.50,253.68 193.80,253.42 194.10,253.18 194.40,252.88 194.70,252.51 195.00,252.56 195.30,252.69 195.60,252.23 195.90,252.36 196.20,252.37 196.50,253.23 196.80,253.01 197.10,252.47 197.40,253.66 197.70,253.68 198.00,253.28 198.30,253.07 198.60,253.14 198.90,252.71 199.20,253.47 199.50,253.66 199.80,253.58 200.10,253.31 200.40,253.38 200.70,253.55 201.00,254.06 201.30,253.01 201.60,253.35 201.90,253.08 202.20,252.90 202.50,253.60 202.80,253.97 203.10,253.09 203.40,254.05 203.70,254.03 204.00,254.06 204.30,254.55 204.60,253.73 204.90,254.53 205.20,253.54 205.50,253.76 205.80,252.72 206.10,253.70 206.40,253.22 206.70,252.89 207.00,252.62 207.30,253.11 207.60,253.58 207.90,253.24 208.20,252.86 208.50,252.68 208.80,252.55 209.10,252.84 209.40,252.29 209.70,252.80 210.00,253.56 210.30,253.21 210.60,253.30 210.90,253.25 211.20,253.84 211.50,253.78 211.80,254.09 212.10,253.18 212.40,252.99 212.70,253.22 213.00,252.97 213.30,253.48 213.60,253.33 213.90,253.13 214.20,253.46 214.50,253.89 214.80,253.75 215.10,253.25 215.40,253.63 215.70,253.84 216.00,254.09 216.30,253.72 216.60,253.30 216.90,253.95 217.20,253.37 217.50,253.59 217.80,253.63 218.10,254.13 218.40,253.54 218.70,253.81 219.00,253.57 219.30,253.32 219.60,253.81 219.90,253.13 220.20,253.46 220.50,253.41 220.80,252.54 221.10,252.65 221.40,252.05 221.70,253.44 222.00,253.36 222.30,252.97 222.60,252.90 222.90,253.00 223.20,252.92 223.50,253.21 223.80,253.26 224.10,252.96 224.40,253.98 224.70,253.86 225.00,253.32 225.30,254.46 225.60,254.49 225.90,253.90 226.20,253.79 226.50,252.96 226.80,253.07 227.10,252.59 227.40,253.12 227.70,253.75 228.00,253.26 228.30,252.91 228.60,254.47 228.90,254.81 229.20,254.80 229.50,253.38 229.80,254.22 230.10,253.38 230.40,253.52 230.70,253.77 231.00,254.03 231.30,253.04 231.60,253.07 231.90,252.63 232.20,253.19 232.50,252.79 232.80,253.02 233.10,253.56 233.40,253.32 233.70,253.46 234.00,253.61 234.30,253.91 234.60,254.23 234.90,253.22 235.20,253.10 235.50,254.06 235.80,254.16 236.10,254.40 236.40,254.08 236.70,254.42 237.00,253.84 237.30,253.43 237.60,254.19 237.90,253.46 238.20,253.61 238.50,254.07 238.80,253.76 239.10,254.22 239.40,253.64 239.70,254.51 240.00,253.21 240.30,253.85 240.60,253.26 240.90,253.95 241.20,253.26 241.50,253.98 241.80,252.47 242.10,253.65 242.40,254.64 242.70,253.92 243.00,253.78 243.30,254.02 243.60,254.65 243.90,253.33 244.20,253.92 244.50,253.92 244.80,254.58 245.10,253.81 245.40,253.29 245.70,253.13 246.00,253.89 246.30,253.67 246.60,253.97 246.90,252.96 247.20,253.29 247.50,253.46 247.80,254.02 248.10,253.82 248.40,253.54 248.70,253.16 249.00,253.68 249.30,253.42 249.60,254.02 249.90,254.40 250.20,253.75 250.50,253.28 250.80,254.81 251.10,254.13 251.40,254.10 251.70,253.88 252.00,253.86 252.30,253.79 252.60,253.82 252.90,253.17 253.20,253.59 253.50,253.95 253.80,254.15 254.10,254.17 254.40,254.21 254.70,253.21 255.00,253.52 255.30,253.64 255.60,254.06 255.90,254.00 256.20,255.00 256.50,254.08 256.80,254.03 257.10,253.38 257.40,254.70 257.70,253.86 258.00,253.80 258.30,253.66 258.60,254.05 258.90,253.95 259.20,254.66 259.50,253.80 259.80,253.95 260.10,253.90 260.40,254.37 260.70,254.17 261.00,254.35 261.30,254.07 261.60,253.99 261.90,253.86 262.20,254.41 262.50,254.41 262.80,254.53 263.10,253.81 263.40,254.22 263.70,254.05 264.00,253.50 264.30,254.75 264.60,254.74 264.90,254.52 265.20,254.23 265.50,254.55 265.80,253.16 266.10,254.35 266.40,252.90 266.70,253.77 267.00,253.72 267.30,253.89 267.60,253.95 267.90,253.98 268.20,253.39 268.50,253.39 268.80,253.32 269.10,253.71 269.40,253.50 269.70,252.99 270.00,254.10 270.30,253.24 270.60,253.54 270.90,253.42 271.20,253.31 271.50,253.77 271.80,253.13 272.10,252.72 272.40,253.12 272.70,253.04 273.00,252.90 273.30,254.02 273.60,254.11 273.90,252.96 274.20,254.18 274.50,254.25 274.80,252.90 275.10,253.82 275.40,253.67 275.70,254.29 276.00,252.85 276.30,254.29 276.60,253.80 276.90,254.09 277.20,254.20 277.50,252.84 277.80,253.87 278.10,253.95 278.40,254.26 278.70,254.54 279.00,254.42 279.30,253.82 279.60,254.49 279.90,253.91 280.20,254.42 280.50,253.88 280.80,253.74 281.10,253.74 281.40,253.03 281.70,253.67 282.00,253.40 282.30,254.39 282.60,254.56 282.90,253.29 283.20,252.84 283.50,253.77 283.80,253.30 284.10,253.16 284.40,254.53 284.70,253.40 285.00,253.15 285.30,253.39 285.60,253.51 285.90,253.94 286.20,253.29 286.50,252.57 286.80,252.95 287.10,254.00 287.40,252.55 287.70,253.32 288.00,253.92 288.30,253.62 288.60,253.50 288.90,253.30 289.20,253.72 289.50,253.79 289.80,253.59 290.10,253.85 290.40,253.43 290.70,253.82 291.00,253.26 291.30,253.51 291.60,252.91 291.90,253.80 292.20,253.60 292.50,253.37 292.80,252.67 293.10,253.12 293.40,251.72 293.70,252.74 294.00,252.90 294.30,252.40 294.60,252.82 294.90,253.01 295.20,253.48 295.50,252.69 295.80,251.93 296.10,251.51 296.40,252.36 296.70,252.72 297.00,252.88 297.30,252.58 297.60,252.38 297.90,252.49 298.20,252.80 298.50,252.84 298.80,253.00 299.10,252.73 299.40,253.47 299.70,252.51 300.00,252.48 300.30,252.54 300.60,252.31 300.90,251.42 301.20,250.78 301.40,250.76 301.50,251.42 301.60,251.44 301.70,251.24 301.80,251.36 301.90,251.49 302.00,250.50 302.10,251.93 302.20,251.94 302.30,251.06 302.40,250.60 302.50,250.75 302.60,249.96 302.70,250.54 302.80,250.11 302.90,250.37 303.00,250.21 303.10,251.21 303.20,249.83 303.30,250.28 303.40,249.90 303.50,250.74 303.60,250.44 303.70,249.20 303.80,249.37 303.90,249.86 304.00,249.37 304.10,249.76 304.20,249.49 304.30,248.84 304.40,249.08 304.50,249.30 304.60,248.91 304.70,248.71 304.80,248.51 304.90,247.95 305.00,248.30 305.10,246.70 305.20,247.13 305.30,246.24 305.40,246.24 305.50,245.97 305.60,245.35 305.70,244.81 305.80,244.23 305.90,243.44 306.00,242.42 306.10,242.19 306.20,241.52 306.30,240.56 306.40,239.24 306.50,238.10 306.60,235.59 306.70,234.78 306.80,233.51 306.90,232.42 307.00,230.57 307.10,227.78 307.20,224.63 307.30,223.01 307.40,220.52 307.50,217.36 307.60,213.17 307.70,209.51 307.80,206.10 307.90,202.32 308.00,200.15 308.10,195.92 308.20,193.69 308.30,189.74 308.40,185.84 308.50,181.30 308.60,179.64 308.70,177.08 308.80,173.58 308.90,172.29 309.00,171.91 309.10,173.41 309.20,172.33 309.30,172.43 309.40,175.22 309.50,177.69 309.60,178.65 309.70,184.14 309.80,185.15 309.90,189.92 310.00,193.09 310.10,195.58 310.20,199.68 310.30,203.40 310.40,206.68 310.50,210.91 310.60,213.73 310.70,215.68 310.80,219.85 310.90,221.82 311.00,224.96 311.10,227.59 311.20,229.64 311.30,232.35 311.40,233.58 311.50,235.01 311.60,237.71 311.70,238.56 311.80,239.30 311.90,240.46 312.00,241.22 312.10,242.34 312.20,242.59 312.30,244.66 312.40,245.02 312.50,243.81 312.60,244.89 312.70,245.74 312.80,245.82 312.90,245.45 313.00,247.11 313.10,246.49 313.20,247.64 313.30,247.77 313.40,248.49 313.50,247.56 313.60,249.02 313.70,247.78 313.80,249.25 313.90,249.24 314.00,249.13 314.10,248.61 314.20,250.01 314.30,249.80 314.40,248.83 314.50,248.55 314.60,249.57 314.70,249.61 314.80,250.45 314.90,250.31 315.00,250.51 315.10,250.22 315.20,250.95 315.30,250.34 315.40,249.99 315.50,249.66 315.60,251.02 315.70,250.58 315.80,250.14 315.90,250.57 316.00,250.83 316.10,251.36 316.20,250.15 316.30,250.96 316.40,251.57 316.50,251.55 316.60,251.80 316.70,252.41 316.80,251.25 316.90,251.46 317.00,252.28 317.10,252.61 317.40,252.30 317.70,252.19 318.00,251.86 318.30,252.67 318.60,252.57 318.90,251.96 319.20,252.27 319.50,252.14 319.80,252.88 320.10,252.62 320.40,253.35 320.70,253.57 321.00,253.29 321.30,253.83 321.60,253.87 321.90,254.06 322.20,253.20 322.50,253.66 322.80,254.16 323.10,253.83 323.40,253.54 323.70,253.99 324.00,255.04 324.30,253.87 324.60,253.66 324.90,254.21 325.20,253.56 325.50,252.97 325.80,252.96 326.10,253.65 326.40,253.37 326.70,254.26 327.00,253.40 327.30,253.08 327.60,253.36 327.90,253.19 328.20,254.35 328.50,253.71 328.80,254.89 329.10,254.68 329.40,255.41 329.70,254.41 330.00,254.72 330.30,253.38 330.60,253.98 330.90,253.77 331.20,254.49 331.50,253.84 331.80,254.09 332.10,253.50 332.40,253.31 332.70,253.87 333.00,254.52 333.30,253.96 333.60,254.60 333.90,253.74 334.20,253.68 334.50,253.63 334.80,253.76 335.10,253.66 335.40,253.94 335.70,253.79 336.00,253.67 336.30,254.69 336.60,254.34 336.90,253.76 337.20,253.58 337.50,253.17 337.80,254.09 338.10,253.56 338.40,254.67 338.70,253.17 339.00,254.13 339.30,254.58 339.60,253.90 339.90,255.07 340.20,254.69 340.50,254.75 340.80,254.03 341.10,254.87 341.40,254.83 341.70,254.42 342.00,255.10 342.30,254.44 342.60,253.33 342.90,254.43 343.20,255.03 343.50,254.02 343.80,254.56 344.10,253.92 344.40,254.15 344.70,252.94 345.00,253.24 345.30,253.72 345.60,253.43 345.90,252.71 346.20,253.64 346.50,253.65 346.80,253.27 347.10,252.92 347.40,254.20 347.70,253.79 348.00,254.31 348.30,254.48 348.60,253.84 348.90,253.91 349.20,254.38 349.50,253.99 349.80,253.31 350.10,254.46 350.40,254.42 350.70,254.12 351.00,254.67 351.30,254.36 351.60,254.33 351.90,254.78 352.20,253.77 352.50,253.60 352.80,254.12 353.10,253.45 353.40,254.21 353.70,253.35 354.00,252.76 354.30,253.45 354.60,252.78 354.90,254.44 355.20,253.97 355.50,254.30 355.80,254.21 356.10,254.05 356.40,253.50 356.70,254.30 357.00,253.88 357.30,253.76 357.60,253.28 357.90,254.76 358.20,254.06 358.50,253.93 358.80,253.23 359.10,254.40 359.40,253.84 359.70,254.20 360.00,253.62 360.30,253.14 360.60,253.69 360.90,252.84 361.20,252.91 361.50,253.62 361.80,254.03 362.10,254.23 362.40,253.75 362.70,253.77 363.00,253.95 363.30,253.71 363.60,253.46 363.90,253.77 364.20,253.22 364.50,253.30 364.80,254.04 365.10,253.75 365.40,253.56 365.70,254.21 366.00,253.84 366.30,254.17 366.60,253.50 366.90,253.52 367.20,253.30 367.50,254.48 367.80,254.69 368.10,254.68 368.40,254.36 368.70,254.21 369.00,253.94 369.30,254.20 369.60,253.79 369.90,253.39 370.20,254.21 370.50,254.13 370.80,253.93 371.10,253.68 371.40,253.57 371.70,253.80 372.00,253.87 372.30,253.30 372.60,253.60 372.90,253.34 373.20,254.26 373.50,253.20 373.80,253.32 374.10,253.50 374.40,253.99 374.70,253.58 375.00,254.63 375.30,254.04 375.60,252.56 375.90,253.52 376.20,253.44 376.50,252.64 376.80,253.03 377.10,252.99 377.40,252.57 377.70,253.12 378.00,253.62 378.30,253.58 378.60,254.09 378.90,253.61 379.20,254.22 379.50,253.52 379.80,254.14 380.10,254.36 380.40,254.12 380.70,253.13 381.00,253.43 381.30,253.06 381.60,253.49 381.90,253.08 382.20,253.13 382.50,253.67 382.80,253.20 383.10,253.78 383.40,253.28 383.70,252.82 384.00,252.41 384.30,252.37 384.60,252.83 384.90,252.40 385.20,252.33 385.40,253.08 385.50,252.32 385.60,252.12 385.70,252.11 385.80,252.72 385.90,251.93 386.00,251.90 386.05,252.56 386.10,252.57 386.15,252.65 386.20,251.65 386.25,252.19 386.30,251.72 386.35,252.12 386.40,251.23 386.45,251.80 386.50,252.32 386.55,251.92 386.60,250.76 386.65,252.21 386.70,251.90 386.75,251.59 386.80,251.68 386.85,251.50 386.90,252.10 386.95,251.55 387.00,250.82 387.05,251.10 387.10,252.14 387.15,251.87 387.20,251.67 387.25,250.91 387.30,251.44 387.35,251.59 387.40,251.12 387.45,251.33 387.50,251.43 387.55,251.31 387.60,250.97 387.65,250.89 387.70,250.04 387.75,250.37 387.80,250.78 387.85,251.04 387.90,250.23 387.95,250.50 388.00,249.87 388.05,249.28 388.10,249.76 388.15,249.61 388.20,248.83 388.25,248.67 388.30,248.91 388.35,248.47 388.40,248.75 388.45,247.69 388.50,248.49 388.55,247.61 388.60,247.84 388.65,246.72 388.70,247.65 388.75,247.06 388.80,247.71 388.85,245.66 388.90,245.31 388.95,246.25 389.00,246.04 389.05,244.45 389.10,245.27 389.15,245.18 389.20,245.12 389.25,244.19 389.30,243.04 389.35,242.52 389.40,244.19 389.45,243.01 389.50,242.95 389.55,241.92 389.60,241.59 389.65,241.22 389.70,240.45 389.75,240.38 389.80,239.53 389.85,239.47 389.90,239.84 389.95,238.82 390.00,237.99 390.05,238.82 390.10,238.12 390.15,236.95 390.20,235.48 390.25,236.65 390.30,236.15 390.35,234.57 390.40,235.17 390.45,233.31 390.50,233.04 390.55,232.34 390.60,232.10 390.65,231.30 390.70,231.59 390.75,229.91 390.80,229.74 390.85,228.85 390.90,228.31 390.95,227.00 391.00,226.80 391.05,226.99 391.10,225.97 391.15,224.04 391.20,223.81 391.25,222.72 391.30,222.19 391.35,221.51 391.40,220.42 391.45,220.77 391.50,220.33 391.55,219.11 391.60,217.97 391.65,217.65 391.70,216.30 391.75,216.82 391.80,217.00 391.85,212.96 391.90,214.34 391.95,213.44 392.00,212.88 392.05,211.90 392.10,210.41 392.15,210.76 392.20,209.92 392.25,209.50 392.30,208.99 392.35,208.11 392.40,209.55 392.45,206.53 392.50,206.67 392.55,205.58 392.60,205.97 392.65,206.84 392.70,205.35 392.75,204.49 392.80,203.89 392.85,205.05 392.90,203.99 392.95,204.87 393.00,203.86 393.05,203.94 393.10,204.29 393.15,203.20 393.20,205.38 393.25,203.84 393.30,204.99 393.35,205.46 393.40,207.14 393.45,206.12 393.50,206.77 393.55,206.23 393.60,206.95 393.65,207.54 393.70,208.82 393.75,207.91 393.80,209.47 393.85,211.78 393.90,209.72 393.95,209.74 394.00,211.30 394.05,212.23 394.10,214.12 394.15,213.99 394.20,215.12 394.25,214.56 394.30,215.70 394.35,216.59 394.40,216.52 394.45,217.94 394.50,218.24 394.55,219.25 394.60,218.87 394.65,219.14 394.70,221.99 394.75,221.81 394.80,222.38 394.85,224.71 394.90,224.39 394.95,224.68 395.00,224.64 395.05,225.91 395.10,226.46 395.15,226.78 395.20,228.41 395.25,228.61 395.30,229.10 395.35,228.88 395.40,229.54 395.45,231.17 395.50,231.23 395.55,231.34 395.60,232.39 395.65,232.83 395.70,233.16 395.75,233.88 395.80,234.97 395.85,235.30 395.90,235.19 395.95,235.80 396.00,236.89 396.05,236.69 396.10,237.83 396.15,238.19 396.20,238.06 396.25,237.96 396.30,239.25 396.35,240.13 396.40,240.58 396.45,241.65 396.50,241.44 396.55,241.81 396.60,242.44 396.65,242.42 396.70,243.88 396.75,243.11 396.80,243.33 396.85,243.86 396.90,245.04 396.95,244.47 397.00,244.66 397.05,245.59 397.10,246.14 397.15,245.63 397.20,246.42 397.25,246.01 397.30,247.22 397.35,246.28 397.40,246.87 397.45,247.01 397.50,246.98 397.55,247.57 397.60,248.10 397.65,247.59 397.70,249.02 397.75,248.42 397.80,248.62 397.85,248.27 397.90,248.73 397.95,249.31 398.00,248.58 398.05,248.85 398.10,248.91 398.15,248.82 398.20,249.80 398.25,249.29 398.30,250.51 398.35,249.34 398.40,249.86 398.45,250.15 398.50,249.79 398.55,249.39 398.60,250.15 398.65,250.52 398.70,250.21 398.75,250.83 398.80,249.99 398.85,251.01 398.90,251.88 398.95,251.46 399.00,251.55 399.05,251.03 399.10,251.07 399.15,251.81 399.20,251.24 399.25,251.72 399.30,251.08 399.35,251.72 399.40,251.69 399.45,250.70 399.50,251.66 399.55,252.00 399.60,252.02 399.65,251.98 399.70,252.41 399.75,251.86 399.80,251.59 399.85,252.34 399.90,252.89 399.95,251.86 400.00,252.69 400.10,252.01 400.20,251.49 400.30,251.79 400.40,251.85 400.50,252.75 400.60,252.33 400.70,252.08 400.80,252.41 400.90,253.03 401.00,252.47 401.10,252.27 401.20,252.81 401.40,252.44 401.70,253.22 402.00,253.63 402.30,253.26 402.60,252.87 402.90,252.96 403.20,252.17 403.50,253.32 403.80,253.58 404.10,252.52 404.40,251.56 404.70,252.08 405.00,251.89 405.30,251.84 405.60,252.71 405.90,252.84 406.20,252.64 406.50,253.30 406.80,252.77 407.10,252.27 407.40,252.88 407.70,252.39 408.00,252.99 408.30,253.01 408.60,253.70 408.90,253.40 409.20,253.20 409.50,253.49 409.80,253.51 410.10,253.43 410.40,253.87 410.70,253.02 411.00,253.70 411.30,254.24 411.60,253.41 411.90,252.34 412.20,253.56 412.50,252.93 412.80,253.25 413.10,253.05 413.40,253.16 413.70,253.38 414.00,252.97 414.30,253.34 414.60,252.56 414.90,252.83 415.20,253.18 415.50,253.79 415.80,252.66 416.10,252.75 416.40,253.07 416.70,252.60 417.00,252.30 417.30,252.05 417.60,253.25 417.90,252.46 418.20,253.10 418.50,253.19 418.80,252.56 419.10,253.20 419.40,252.15 419.70,253.05 420.00,252.70 420.30,253.28 420.60,253.17 420.90,253.07 421.20,253.16 421.50,252.52 421.80,252.12 422.10,252.16 422.40,253.06 422.70,252.15 423.00,252.49 423.30,253.02 423.60,253.03 423.90,252.91 424.20,252.66 424.50,253.79 424.80,253.00 425.10,252.40 425.40,252.66 425.70,252.91 426.00,252.06 426.30,252.95 426.60,252.90 426.90,253.10 427.20,252.95 427.50,252.55 427.80,252.32 428.10,252.95 428.40,252.78 428.70,253.61 429.00,252.81 429.30,253.06 429.60,252.84 429.90,251.97 430.20,252.93 430.50,252.31 430.80,251.83 431.10,252.60 431.40,252.93 431.70,252.35 432.00,252.27 432.30,252.23 432.60,252.44 432.90,253.21 433.20,252.89 433.50,253.04 433.80,253.05 434.10,251.53 434.40,252.78 434.70,252.90 435.00,252.70 435.30,251.92 435.60,252.16 435.90,252.72 436.20,252.65 436.50,252.71 436.80,252.08 437.10,252.72 437.40,253.06 437.70,252.20 438.00,252.49 438.30,252.03 438.60,251.88 438.90,251.38 439.20,251.52 439.50,251.63 439.80,252.53 440.10,252.53 440.40,251.54 440.70,251.40 441.00,251.96 441.30,252.37 441.60,251.82 441.90,251.85 442.20,251.68 442.50,251.69 442.80,251.55 443.10,251.97 443.40,252.21 443.70,252.04 444.00,252.81 444.30,251.69 444.60,252.00 444.90,251.83 445.20,252.62 445.50,252.61 445.80,251.82 446.10,252.14 446.40,251.86 446.70,251.35 447.00,251.44 447.30,251.78 447.60,251.74 447.90,251.32 448.20,251.74 448.50,252.20 448.80,252.56 449.10,252.19 449.40,251.74 449.70,251.46 450.00,252.19 450.30,252.05 450.60,251.91 450.90,251.85 451.20,251.88 451.50,252.16 451.80,252.42 452.10,251.84 452.40,253.01 452.70,252.87 453.00,252.21 453.30,252.47 453.60,253.00 453.90,252.01 454.20,252.17 454.50,252.25 454.80,252.16 455.10,252.95 455.40,252.64 455.70,252.70 456.00,252.63 456.30,252.45 456.60,253.10 456.90,252.50 457.20,252.40 457.50,252.37 457.80,252.84 458.10,253.28 458.40,253.13 458.70,253.04 459.00,252.60 459.30,252.82 459.60,252.85 459.90,252.20 460.20,252.89 460.50,252.93 460.80,252.70 461.10,253.33 461.40,252.96 461.70,252.69 462.00,253.43 462.30,253.74 462.60,252.50 462.90,252.92 463.20,253.29 463.50,253.19 463.80,253.37 464.10,253.50 464.40,252.23 464.70,253.35 465.00,252.53 465.30,252.95 465.60,253.02 465.90,253.70 466.20,252.60 466.50,253.12 466.80,252.24 467.10,253.50 467.40,252.49 467.70,252.76 468.00,252.32 468.30,252.62 468.60,253.61 468.90,253.45 469.20,253.15 469.50,253.71 469.80,254.02 470.10,254.74 470.40,253.88 470.70,254.03 471.00,254.21 471.30,254.77 471.60,254.05 471.90,253.33 472.20,253.37 472.50,254.49 472.80,253.95 473.10,252.97 473.40,253.56 473.70,253.59 474.00,253.65 474.30,254.08 474.60,254.10 474.90,254.39 475.20,252.97 475.50,253.82 475.80,253.54 476.10,253.11 476.40,253.92 476.70,253.07 477.00,253.11 477.30,254.42 477.60,253.95 477.90,254.08 478.20,254.25 478.50,253.13 478.80,254.20 479.10,253.83 479.40,254.18 479.70,254.45 480.00,254.55 480.30,254.16 480.60,254.29 480.90,254.34 481.20,254.69 481.50,253.30 481.80,254.80 482.10,253.80 482.40,255.09 482.70,254.36 483.00,254.91 483.30,254.10 483.60,254.94 483.90,254.41 484.20,254.40 484.50,254.39 484.80,253.12 485.10,253.52 485.40,253.42 485.70,254.07 486.00,253.88 486.30,254.25 486.60,253.99 486.90,254.56 487.20,253.95 487.50,254.59 487.80,254.44 488.10,254.18 488.40,253.85 488.70,254.48 489.00,254.06 489.30,254.16 489.60,253.92 489.90,253.81 490.20,255.40 490.50,254.18 490.80,253.66 491.10,254.18 491.40,254.32 491.70,253.75 492.00,254.86 492.30,254.07 492.60,254.73 492.90,254.36 493.20,254.24 493.50,255.94 493.80,254.31 494.10,253.92 494.40,254.33 494.70,254.09 495.00,254.94 495.30,254.63 495.60,253.91 495.90,255.15 496.20,254.32 496.50,253.87 496.80,254.90 497.10,254.70 497.40,253.92 497.70,253.79 498.00,254.13 498.30,253.84 498.60,254.47 498.90,254.46 499.20,253.95 499.50,254.10 499.80,254.48 500.10,255.10 500.40,254.25 500.70,254.75 501.00,254.20 501.30,254.66 501.60,254.24 501.90,254.66 502.20,254.10 502.50,254.00 502.80,254.99 503.10,254.40 503.40,253.32 503.70,254.39 504.00,253.95 504.30,254.73 504.60,253.72 504.90,254.34 505.20,254.20 505.50,254.09 505.80,253.89 506.10,255.21 506.40,254.39 506.70,254.27 507.00,253.71 507.30,254.90 507.60,254.75 507.90,253.97 508.20,253.22 508.50,253.81 508.80,253.43 509.10,252.86 509.40,254.42 509.70,253.89 510.00,253.21 510.30,253.43 510.60,254.26 510.90,254.58 511.20,254.48 511.50,254.44 511.80,253.98 512.10,254.94 512.40,253.85 512.70,254.04 513.00,254.20 513.30,254.02 513.60,254.56 513.90,254.98 514.20,253.34 514.50,254.17 514.80,254.76 515.10,254.79 515.40,254.02 515.70,254.58 516.00,254.44 516.30,254.48 516.60,254.16 516.90,254.76 517.20,254.75 517.50,254.82 517.80,254.15 518.10,254.06 518.40,254.45 518.70,255.35 519.00,253.80 519.30,253.92 519.60,254.82 519.90,253.70 520.20,253.21 520.50,254.77 520.80,254.89 521.10,254.80 521.40,254.61 521.70,254.59 522.00,253.77 522.30,254.45 522.60,253.51 522.90,253.21 523.20,253.72 523.50,253.21 523.80,253.23 524.10,253.37 524.40,253.55 524.70,254.14 525.00,254.00 525.30,254.53 525.60,255.08 525.90,254.96 526.20,254.85 526.50,254.74 526.80,254.26 527.10,254.28 527.40,254.38 527.70,254.10 528.00,254.19 528.30,253.69 528.60,254.05 528.90,254.25 529.20,253.44 529.50,254.15 529.80,253.44 530.10,254.18 530.40,254.50 530.70,253.95 531.00,253.75 531.30,254.16 531.60,253.86 531.90,253.71 532.20,254.59 532.50,253.36 532.80,254.59 533.10,253.91 533.40,254.67 533.70,254.09 534.00,255.11 534.30,254.15 534.60,253.44 534.90,255.58 535.20,254.24 535.50,254.06 535.80,254.01 536.10,253.83 536.40,254.18 536.70,253.81 537.00,255.15 537.30,254.01 537.60,254.62 537.90,254.97 538.20,254.35 538.50,254.86 538.80,254.19 539.10,253.88 539.40,253.85 539.70,254.53 540.00,254.45 540.30,253.65 540.60,254.50 540.90,253.71 541.20,254.20 541.50,254.30 541.80,253.00 542.10,254.02 542.40,253.50 542.70,253.00 543.00,253.99 543.30,253.89 543.60,253.99 543.90,253.75 544.20,253.54 544.50,253.22 544.80,253.64 545.10,253.25 545.40,253.65 545.70,254.15 546.00,254.46 546.30,254.44 546.60,254.39 546.90,254.09 547.20,254.55 547.50,254.59 547.80,253.88 548.10,254.02 548.40,253.91 548.70,254.33 549.00,254.39 549.30,255.31 549.60,254.95 549.90,253.70 550.20,254.51 550.50,254.07 550.80,253.47 551.10,254.36 551.40,254.00 551.70,254.45 552.00,254.51 552.30,253.99 552.60,254.89 552.90,254.29 553.20,253.87 553.50,253.48 553.80,255.10 554.10,253.79 554.40,254.09 554.70,254.09 555.00,254.26 555.30,253.22 555.60,252.76 555.90,254.03 556.20,253.53 556.50,254.24 556.80,255.42 557.10,254.17 557.40,254.58 557.70,253.70 558.00,255.32 558.30,253.76 558.60,253.97 558.90,253.61 559.20,253.29 559.50,253.95 559.80,253.48 560.10,253.27 560.40,253.52 560.70,253.70 561.00,253.83 561.30,253.81 561.60,253.36 561.90,253.45 562.20,254.64 562.50,253.81" stroke="#000" stroke-width="1.4" fill="none" stroke-linejoin="round" clip-path="url(#cpb)"/>
<path d="M30.30,341.18 L30.60,341.35 30.90,340.93 31.20,341.21 31.50,341.04 31.80,341.12 32.10,341.48 32.40,341.47 32.70,340.83 33.00,340.99 33.30,340.95 33.60,340.65 33.90,340.74 34.20,340.49 34.50,341.01 34.80,340.65 35.10,341.38 35.40,340.50 35.70,341.27 36.00,341.35 36.30,341.06 36.60,340.83 36.90,341.41 37.20,341.03 37.50,341.70 37.80,341.44 38.10,341.42 38.40,341.45 38.70,341.62 39.00,341.39 39.30,341.54 39.60,341.44 39.90,341.12 40.20,341.50 40.50,341.56 40.80,341.38 41.10,341.11 41.40,341.27 41.70,340.80 42.00,340.87 42.30,340.82 42.60,340.86 42.90,341.22 43.20,340.72 43.50,340.80 43.80,340.62 44.10,340.92 44.40,340.71 44.70,341.48 45.00,341.21 45.30,341.53 45.60,341.68 45.90,341.46 46.20,341.39 46.50,341.31 46.80,341.12 47.10,340.61 47.40,341.23 47.70,340.94 48.00,340.81 48.30,340.88 48.60,341.02 48.90,341.27 49.20,340.86 49.50,340.83 49.80,341.54 50.10,341.38 50.40,341.43 50.70,341.12 51.00,340.79 51.30,341.56 51.60,341.55 51.90,341.05 52.20,341.35 52.50,341.54 52.80,341.90 53.10,341.52 53.40,341.30 53.70,341.06 54.00,341.01 54.30,341.14 54.60,340.99 54.90,341.37 55.20,341.21 55.50,341.06 55.80,340.80 56.10,341.07 56.40,340.92 56.70,341.12 57.00,340.74 57.30,341.19 57.60,340.96 57.90,341.45 58.20,340.62 58.50,341.31 58.80,341.49 59.10,340.73 59.40,341.44 59.70,341.31 60.00,340.79 60.30,341.05 60.60,341.49 60.90,341.29 61.20,341.45 61.50,341.32 61.80,341.56 62.10,341.03 62.40,340.75 62.70,340.81 63.00,341.05 63.30,340.92 63.60,341.28 63.90,341.34 64.20,341.38 64.50,341.44 64.80,341.33 65.10,341.70 65.40,341.44 65.70,341.65 66.00,341.05 66.30,341.48 66.60,341.37 66.90,340.91 67.20,341.93 67.50,340.91 67.80,341.42 68.10,341.35 68.40,341.45 68.70,341.00 69.00,340.41 69.30,341.29 69.60,341.11 69.90,341.35 70.20,341.15 70.50,341.58 70.80,341.39 71.10,341.18 71.40,341.97 71.70,341.16 72.00,340.75 72.30,341.42 72.60,341.54 72.90,341.59 73.20,341.31 73.50,341.34 73.80,341.00 74.10,341.00 74.40,341.19 74.70,340.85 75.00,341.23 75.30,341.00 75.60,341.12 75.90,341.00 76.20,341.33 76.50,340.95 76.80,340.62 77.10,340.78 77.40,341.16 77.70,340.98 78.00,340.70 78.30,340.86 78.60,340.85 78.90,341.56 79.20,341.29 79.50,341.54 79.80,341.55 80.10,341.22 80.40,341.61 80.70,341.26 81.00,341.37 81.30,340.79 81.60,341.40 81.90,341.39 82.20,341.36 82.50,341.61 82.80,341.12 83.10,341.32 83.40,340.60 83.70,341.18 84.00,341.00 84.30,341.62 84.60,341.14 84.90,341.20 85.20,340.20 85.50,340.88 85.80,340.66 86.10,341.33 86.40,341.26 86.70,341.07 87.00,341.13 87.30,341.16 87.60,341.17 87.90,341.43 88.20,341.47 88.50,341.33 88.80,341.23 89.10,341.75 89.40,341.05 89.70,340.83 90.00,341.55 90.30,340.89 90.60,340.83 90.90,340.51 91.20,340.61 91.50,341.31 91.80,340.89 92.10,341.35 92.40,340.77 92.70,341.35 93.00,341.15 93.30,340.97 93.60,340.58 93.90,341.43 94.20,341.12 94.50,341.14 94.80,341.45 95.10,340.98 95.40,341.67 95.70,341.44 96.00,341.31 96.30,341.26 96.60,340.84 96.90,341.00 97.20,341.20 97.50,340.96 97.80,341.50 98.10,341.36 98.40,341.51 98.70,340.70 99.00,341.55 99.30,340.98 99.60,340.91 99.90,341.06 100.20,341.54 100.50,341.29 100.80,341.32 101.10,341.55 101.40,341.62 101.70,341.69 102.00,341.57 102.30,341.26 102.60,341.20 102.90,340.55 103.20,340.80 103.50,340.21 103.80,340.77 104.10,340.80 104.40,340.54 104.70,340.62 105.00,341.07 105.30,340.68 105.60,340.80 105.90,341.36 106.20,340.98 106.50,341.19 106.80,341.12 107.10,341.19 107.40,341.37 107.70,341.01 108.00,341.29 108.30,340.97 108.60,341.00 108.90,341.31 109.20,340.98 109.50,340.44 109.80,341.10 110.10,341.51 110.40,340.86 110.70,341.29 111.00,341.01 111.30,340.68 111.60,341.01 111.90,340.45 112.20,341.40 112.50,340.87 112.80,341.00 113.10,340.80 113.40,340.30 113.70,340.60 114.00,341.09 114.30,341.04 114.60,340.76 114.90,340.71 115.20,340.94 115.50,340.65 115.80,341.12 116.10,340.65 116.40,340.82 116.70,341.18 117.00,340.86 117.30,340.61 117.60,340.82 117.90,340.74 118.20,340.92 118.50,341.18 118.80,340.88 119.10,340.43 119.40,341.02 119.70,340.68 120.00,341.22 120.30,341.22 120.60,340.98 120.90,341.16 121.20,340.67 121.50,340.56 121.80,340.88 122.10,341.01 122.40,341.22 122.70,340.60 123.00,340.50 123.30,340.48 123.60,340.47 123.90,340.68 124.20,340.30 124.50,340.96 124.80,340.45 125.10,341.49 125.40,340.85 125.70,340.92 126.00,340.44 126.30,340.98 126.60,340.39 126.90,341.20 127.20,340.84 127.50,341.13 127.80,341.25 128.10,341.30 128.40,341.35 128.70,341.22 129.00,341.05 129.30,340.66 129.60,340.53 129.90,341.06 130.20,340.96 130.50,340.73 130.80,340.85 131.10,341.11 131.40,341.08 131.70,340.65 132.00,340.45 132.30,340.29 132.60,340.69 132.90,340.73 133.20,340.53 133.50,341.30 133.80,341.65 134.10,341.03 134.40,341.45 134.70,341.00 135.00,340.98 135.30,340.65 135.60,340.37 135.90,340.79 136.20,340.87 136.50,340.70 136.80,341.10 137.10,340.80 137.40,340.89 137.70,341.00 138.00,340.90 138.30,340.31 138.60,340.94 138.90,340.48 139.20,340.91 139.50,341.09 139.80,340.40 140.10,340.44 140.40,340.89 140.70,340.67 141.00,340.04 141.30,340.96 141.60,340.60 141.90,340.52 142.20,340.96 142.50,340.66 142.80,340.80 143.10,340.81 143.40,341.36 143.70,341.01 144.00,340.89 144.30,340.90 144.60,341.03 144.90,341.12 145.20,340.85 145.50,341.19 145.80,340.90 146.10,340.91 146.40,340.92 146.70,341.11 147.00,340.93 147.30,339.77 147.60,340.90 147.90,340.56 148.20,340.55 148.50,340.91 148.80,340.39 149.10,340.43 149.40,340.29 149.70,340.64 150.00,341.29 150.30,340.87 150.60,340.85 150.90,341.27 151.20,340.92 151.50,340.90 151.80,340.80 152.10,341.04 152.40,340.65 152.70,340.60 153.00,340.59 153.30,340.04 153.60,340.38 153.90,339.89 154.20,340.08 154.50,340.30 154.80,340.49 155.10,340.41 155.40,340.88 155.70,340.74 156.00,340.98 156.30,340.81 156.60,340.82 156.90,341.50 157.20,340.62 157.50,341.43 157.80,340.89 158.10,341.20 158.40,340.57 158.70,340.97 159.00,340.84 159.30,340.11 159.60,340.46 159.90,340.76 160.20,340.80 160.50,340.66 160.80,340.54 161.10,340.80 161.40,340.57 161.70,340.69 162.00,340.91 162.30,340.73 162.60,340.81 162.90,340.55 163.20,340.69 163.50,340.53 163.80,340.76 164.10,341.30 164.40,340.36 164.70,340.68 165.00,340.51 165.30,340.78 165.60,340.77 165.90,340.42 166.20,340.69 166.50,340.70 166.80,340.62 167.10,340.79 167.40,341.14 167.70,340.98 168.00,340.80 168.30,340.91 168.60,341.33 168.90,340.54 169.20,340.95 169.50,340.43 169.80,340.23 170.10,340.53 170.40,340.87 170.70,340.76 171.00,340.68 171.30,340.71 171.60,340.70 171.90,340.72 172.20,340.86 172.50,340.35 172.80,341.15 173.10,341.12 173.40,341.07 173.70,341.31 174.00,340.91 174.30,341.09 174.60,340.39 174.90,341.08 175.20,340.85 175.50,341.05 175.80,341.04 176.10,340.69 176.40,340.34 176.70,340.72 177.00,340.80 177.30,340.82 177.60,340.51 177.90,340.49 178.20,340.77 178.50,340.65 178.80,340.35 179.10,341.05 179.40,341.07 179.70,341.14 180.00,340.73 180.30,340.96 180.60,340.65 180.90,340.58 181.20,341.11 181.50,340.46 181.80,340.84 182.10,341.55 182.40,341.21 182.70,341.11 183.00,341.14 183.30,340.96 183.60,340.89 183.90,341.59 184.20,340.91 184.50,340.74 184.80,341.03 185.10,340.81 185.40,341.28 185.70,340.84 186.00,340.87 186.30,341.08 186.60,341.68 186.90,341.55 187.20,341.41 187.50,341.42 187.80,341.46 188.10,341.02 188.40,341.36 188.70,341.01 189.00,341.17 189.30,341.11 189.60,341.19 189.90,340.98 190.20,341.37 190.50,341.24 190.80,340.96 191.10,341.32 191.40,341.14 191.70,341.35 192.00,341.48 192.30,341.11 192.60,341.24 192.90,341.26 193.20,341.26 193.50,341.81 193.80,341.35 194.10,340.95 194.40,341.28 194.70,341.08 195.00,341.89 195.30,341.03 195.60,340.88 195.90,341.37 196.20,341.01 196.50,341.02 196.80,341.08 197.10,341.05 197.40,341.21 197.70,340.80 198.00,341.46 198.30,341.54 198.60,341.75 198.90,341.13 199.20,341.21 199.50,340.82 199.80,341.53 200.10,341.85 200.40,341.43 200.70,341.29 201.00,341.30 201.30,341.62 201.60,340.77 201.90,341.37 202.20,340.80 202.50,340.91 202.80,341.27 203.10,341.44 203.40,341.50 203.70,341.56 204.00,340.80 204.30,341.06 204.60,341.20 204.90,341.04 205.20,341.24 205.50,340.92 205.80,340.80 206.10,340.29 206.40,340.41 206.70,341.16 207.00,340.65 207.30,341.06 207.60,341.16 207.90,340.95 208.20,341.27 208.50,340.85 208.80,341.29 209.10,341.20 209.40,340.93 209.70,340.89 210.00,341.30 210.30,341.71 210.60,341.50 210.90,341.22 211.20,341.27 211.50,341.30 211.80,340.98 212.10,341.40 212.40,341.10 212.70,340.88 213.00,342.07 213.30,341.17 213.60,340.94 213.90,341.23 214.20,340.73 214.50,340.77 214.80,341.68 215.10,341.34 215.40,340.87 215.70,340.71 216.00,341.13 216.30,340.88 216.60,341.56 216.90,340.69 217.20,341.58 217.50,340.99 217.80,340.87 218.10,341.16 218.40,340.74 218.70,340.87 219.00,340.84 219.30,340.30 219.60,340.62 219.90,341.02 220.20,340.35 220.50,340.60 220.80,340.77 221.10,341.33 221.40,341.39 221.70,341.59 222.00,340.95 222.30,341.48 222.60,341.36 222.90,340.95 223.20,341.45 223.50,341.29 223.80,341.10 224.10,340.96 224.40,340.73 224.70,341.24 225.00,341.14 225.30,340.85 225.60,340.85 225.90,340.81 226.20,341.21 226.50,341.08 226.80,340.56 227.10,341.11 227.40,341.26 227.70,341.00 228.00,341.04 228.30,340.97 228.60,341.27 228.90,340.94 229.20,341.00 229.50,340.99 229.80,341.36 230.10,340.47 230.40,341.50 230.70,340.55 231.00,340.90 231.30,340.80 231.60,341.14 231.90,341.30 232.20,341.77 232.50,341.43 232.80,340.88 233.10,341.10 233.40,341.10 233.70,340.91 234.00,341.29 234.30,341.23 234.60,341.06 234.90,341.01 235.20,341.43 235.50,341.22 235.80,341.58 236.10,341.43 236.40,340.79 236.70,340.47 237.00,341.01 237.30,340.78 237.60,340.65 237.90,340.71 238.20,341.28 238.50,340.82 238.80,341.43 239.10,341.13 239.40,340.44 239.70,341.09 240.00,341.45 240.30,340.60 240.60,340.82 240.90,341.21 241.20,341.05 241.50,341.65 241.80,340.90 242.10,341.59 242.40,340.73 242.70,340.91 243.00,341.28 243.30,341.36 243.60,341.26 243.90,341.62 244.20,341.62 244.50,341.61 244.80,340.98 245.10,341.30 245.40,341.03 245.70,341.56 246.00,340.55 246.30,341.00 246.60,341.06 246.90,340.93 247.20,341.46 247.50,340.58 247.80,340.73 248.10,340.61 248.40,340.93 248.70,340.68 249.00,341.23 249.30,341.24 249.60,340.43 249.90,340.45 250.20,341.28 250.50,341.16 250.80,340.59 251.10,341.02 251.40,340.68 251.70,341.25 252.00,340.64 252.30,340.83 252.60,341.13 252.90,341.03 253.20,341.32 253.50,341.15 253.80,340.63 254.10,341.15 254.40,340.80 254.70,341.57 255.00,341.64 255.30,341.52 255.60,341.74 255.90,341.27 256.20,341.39 256.50,341.16 256.80,341.10 257.10,341.04 257.40,340.83 257.70,341.20 258.00,340.44 258.30,340.40 258.60,340.72 258.90,341.48 259.20,341.05 259.50,340.96 259.80,341.02 260.10,341.45 260.40,341.37 260.70,341.69 261.00,341.22 261.30,341.53 261.60,340.99 261.90,341.30 262.20,341.90 262.50,340.88 262.80,340.80 263.10,341.06 263.40,340.59 263.70,340.81 264.00,340.86 264.30,341.16 264.60,340.73 264.90,341.55 265.20,341.21 265.50,341.26 265.80,341.16 266.10,341.18 266.40,340.53 266.70,341.53 267.00,340.93 267.30,341.45 267.60,341.22 267.90,341.24 268.20,341.48 268.50,341.77 268.80,341.22 269.10,341.04 269.40,341.29 269.70,340.33 270.00,340.62 270.30,340.41 270.60,340.42 270.90,340.08 271.20,340.85 271.50,340.68 271.80,340.96 272.10,341.08 272.40,340.92 272.70,340.76 273.00,341.24 273.30,341.05 273.60,341.21 273.90,340.74 274.20,340.85 274.50,340.86 274.80,340.65 275.10,340.70 275.40,340.21 275.70,340.30 276.00,340.33 276.30,340.29 276.60,340.75 276.90,340.75 277.20,340.78 277.50,340.62 277.80,341.02 278.10,341.03 278.40,340.97 278.70,340.77 279.00,341.36 279.30,340.66 279.60,340.60 279.90,340.75 280.20,341.46 280.50,341.15 280.80,340.95 281.10,340.46 281.40,341.04 281.70,340.80 282.00,340.46 282.30,341.33 282.60,341.03 282.90,341.43 283.20,341.06 283.50,341.24 283.80,340.91 284.10,341.21 284.40,340.84 284.70,341.04 285.00,340.85 285.30,340.44 285.60,340.73 285.90,340.75 286.20,340.48 286.50,340.67 286.80,341.08 287.10,341.29 287.40,341.08 287.70,340.55 288.00,341.33 288.30,341.56 288.60,340.90 288.90,340.65 289.20,340.93 289.50,340.86 289.80,341.00 290.10,340.53 290.40,341.18 290.70,340.99 291.00,340.49 291.30,341.11 291.60,340.82 291.90,340.98 292.20,340.80 292.50,340.64 292.80,340.63 293.10,340.46 293.40,340.46 293.70,340.70 294.00,340.78 294.30,340.98 294.60,340.77 294.90,340.11 295.20,340.65 295.50,340.25 295.80,340.51 296.10,340.48 296.40,340.37 296.70,340.46 297.00,339.89 297.30,340.72 297.60,340.81 297.90,340.42 298.20,340.07 298.50,340.36 298.80,340.02 299.10,340.52 299.40,339.87 299.70,339.54 300.00,339.50 300.30,339.37 300.60,339.63 300.90,339.31 301.20,339.34 301.40,339.09 301.50,339.53 301.60,339.11 301.70,339.12 301.80,339.45 301.90,339.02 302.00,338.71 302.10,338.68 302.20,338.96 302.30,338.61 302.40,338.13 302.50,338.55 302.60,337.61 302.70,337.23 302.80,337.40 302.90,336.93 303.00,337.23 303.10,337.08 303.20,336.75 303.30,336.41 303.40,335.99 303.50,336.31 303.60,335.12 303.70,335.62 303.80,335.14 303.90,334.67 304.00,334.45 304.10,333.41 304.20,333.79 304.30,333.19 304.40,332.91 304.50,331.37 304.60,331.60 304.70,330.93 304.80,329.64 304.90,329.70 305.00,329.20 305.10,328.25 305.20,327.95 305.30,327.28 305.40,326.14 305.50,325.35 305.60,324.88 305.70,323.32 305.80,322.89 305.90,322.16 306.00,320.51 306.10,319.45 306.20,318.02 306.30,316.95 306.40,314.53 306.50,312.82 306.60,311.42 306.70,309.62 306.80,308.24 306.90,306.17 307.00,303.38 307.10,300.99 307.20,297.30 307.30,294.08 307.40,290.17 307.50,287.79 307.60,283.54 307.70,279.10 307.80,274.16 307.90,270.13 308.00,267.02 308.10,263.29 308.20,261.22 308.30,258.98 308.40,257.90 308.50,258.28 308.60,260.67 308.70,264.30 308.80,267.93 308.90,270.36 309.00,275.22 309.10,278.80 309.20,283.45 309.30,285.85 309.40,290.65 309.50,293.52 309.60,298.19 309.70,300.22 309.80,303.23 309.90,305.46 310.00,307.09 310.10,309.95 310.20,311.99 310.30,313.35 310.40,315.06 310.50,316.74 310.60,317.89 310.70,318.89 310.80,319.51 310.90,320.92 311.00,322.00 311.10,323.54 311.20,324.70 311.30,325.13 311.40,326.33 311.50,325.95 311.60,327.65 311.70,327.88 311.80,329.30 311.90,330.06 312.00,330.64 312.10,331.12 312.20,331.80 312.30,332.55 312.40,332.30 312.50,333.45 312.60,333.28 312.70,333.37 312.80,334.39 312.90,334.81 313.00,335.03 313.10,335.06 313.20,335.76 313.30,335.80 313.40,336.90 313.50,336.52 313.60,336.78 313.70,336.74 313.80,337.30 313.90,337.83 314.00,337.32 314.10,337.61 314.20,337.33 314.30,338.04 314.40,338.69 314.50,338.01 314.60,338.38 314.70,338.40 314.80,338.66 314.90,338.62 315.00,338.85 315.10,338.72 315.20,339.20 315.30,339.50 315.40,339.52 315.50,338.83 315.60,339.82 315.70,339.72 315.80,339.90 315.90,339.38 316.00,339.51 316.10,339.93 316.20,340.29 316.30,339.56 316.40,339.97 316.50,340.06 316.60,339.89 316.70,340.14 316.80,339.94 316.90,340.50 317.00,339.71 317.10,340.30 317.40,340.19 317.70,340.37 318.00,340.04 318.30,339.36 318.60,340.54 318.90,340.22 319.20,340.16 319.50,340.05 319.80,340.17 320.10,340.01 320.40,340.21 320.70,340.68 321.00,340.23 321.30,340.27 321.60,341.13 321.90,340.53 322.20,340.80 322.50,340.75 322.80,341.03 323.10,341.04 323.40,340.90 323.70,340.59 324.00,340.60 324.30,340.86 324.60,341.30 324.90,340.25 325.20,340.68 325.50,340.81 325.80,340.52 326.10,340.75 326.40,340.65 326.70,340.91 327.00,341.15 327.30,340.60 327.60,340.78 327.90,340.82 328.20,340.81 328.50,340.87 328.80,340.37 329.10,341.09 329.40,340.80 329.70,340.89 330.00,341.05 330.30,341.00 330.60,340.63 330.90,340.65 331.20,340.73 331.50,340.54 331.80,341.29 332.10,341.31 332.40,340.70 332.70,341.14 333.00,340.83 333.30,340.30 333.60,340.96 333.90,340.99 334.20,340.95 334.50,340.60 334.80,340.79 335.10,340.27 335.40,340.86 335.70,340.74 336.00,340.49 336.30,340.45 336.60,341.16 336.90,340.36 337.20,340.99 337.50,340.81 337.80,341.13 338.10,340.33 338.40,340.81 338.70,341.14 339.00,340.75 339.30,340.41 339.60,340.27 339.90,340.71 340.20,341.32 340.50,341.59 340.80,341.31 341.10,341.60 341.40,341.54 341.70,341.33 342.00,340.83 342.30,341.17 342.60,340.69 342.90,341.00 343.20,341.20 343.50,341.28 343.80,340.90 344.10,341.19 344.40,341.23 344.70,341.01 345.00,340.68 345.30,340.75 345.60,340.64 345.90,340.61 346.20,340.77 346.50,340.84 346.80,340.51 347.10,340.68 347.40,340.50 347.70,340.51 348.00,340.27 348.30,340.72 348.60,340.65 348.90,340.82 349.20,341.06 349.50,341.02 349.80,341.04 350.10,340.73 350.40,340.43 350.70,340.77 351.00,340.87 351.30,340.93 351.60,341.20 351.90,340.83 352.20,341.07 352.50,340.48 352.80,340.27 353.10,340.91 353.40,340.45 353.70,340.42 354.00,340.80 354.30,340.99 354.60,341.14 354.90,340.78 355.20,340.97 355.50,340.75 355.80,340.37 356.10,340.60 356.40,340.51 356.70,340.95 357.00,340.36 357.30,340.47 357.60,340.57 357.90,340.99 358.20,340.90 358.50,340.65 358.80,340.83 359.10,340.71 359.40,341.52 359.70,340.26 360.00,340.12 360.30,340.11 360.60,340.22 360.90,340.51 361.20,340.87 361.50,340.54 361.80,340.53 362.10,340.59 362.40,340.71 362.70,340.43 363.00,340.89 363.30,340.72 363.60,340.82 363.90,340.93 364.20,340.95 364.50,341.03 364.80,340.57 365.10,340.94 365.40,340.38 365.70,340.23 366.00,340.64 366.30,340.78 366.60,340.73 366.90,340.62 367.20,340.72 367.50,339.96 367.80,340.27 368.10,340.32 368.40,340.16 368.70,340.55 369.00,340.69 369.30,340.68 369.60,340.69 369.90,341.33 370.20,340.75 370.50,340.76 370.80,341.12 371.10,341.24 371.40,340.39 371.70,340.28 372.00,340.84 372.30,340.71 372.60,340.62 372.90,340.31 373.20,340.56 373.50,339.97 373.80,340.03 374.10,340.77 374.40,339.97 374.70,340.26 375.00,340.49 375.30,340.42 375.60,340.05 375.90,340.21 376.20,340.55 376.50,340.28 376.80,340.87 377.10,340.38 377.40,340.94 377.70,340.32 378.00,340.56 378.30,340.23 378.60,340.01 378.90,339.61 379.20,340.18 379.50,340.08 379.80,340.20 380.10,339.98 380.40,339.88 380.70,339.89 381.00,340.15 381.30,340.45 381.60,340.02 381.90,339.74 382.20,339.74 382.50,339.58 382.80,339.35 383.10,339.59 383.40,339.41 383.70,339.39 384.00,339.92 384.30,339.58 384.60,339.63 384.90,339.14 385.20,339.10 385.40,338.78 385.50,338.50 385.60,338.54 385.70,338.87 385.80,339.08 385.90,339.56 386.00,338.88 386.05,338.45 386.10,338.76 386.15,338.99 386.20,338.49 386.25,338.67 386.30,338.92 386.35,338.79 386.40,338.85 386.45,338.72 386.50,338.67 386.55,339.03 386.60,338.86 386.65,338.64 386.70,338.67 386.75,338.46 386.80,338.42 386.85,338.50 386.90,338.39 386.95,339.01 387.00,338.29 387.05,338.28 387.10,338.71 387.15,337.76 387.20,337.99 387.25,338.25 387.30,337.86 387.35,337.70 387.40,337.38 387.45,337.54 387.50,337.22 387.55,337.63 387.60,337.38 387.65,337.02 387.70,337.33 387.75,336.56 387.80,336.47 387.85,336.80 387.90,336.50 387.95,335.91 388.00,335.85 388.05,335.83 388.10,335.52 388.15,335.58 388.20,335.28 388.25,335.25 388.30,334.87 388.35,334.77 388.40,334.30 388.45,334.31 388.50,334.05 388.55,333.90 388.60,333.52 388.65,333.02 388.70,332.84 388.75,332.97 388.80,332.18 388.85,331.97 388.90,332.13 388.95,331.50 389.00,331.17 389.05,330.32 389.10,329.95 389.15,329.97 389.20,330.21 389.25,328.54 389.30,328.18 389.35,328.53 389.40,328.02 389.45,327.19 389.50,327.39 389.55,326.72 389.60,326.04 389.65,325.72 389.70,325.09 389.75,324.91 389.80,324.08 389.85,323.43 389.90,323.08 389.95,322.95 390.00,322.71 390.05,321.55 390.10,320.88 390.15,320.82 390.20,320.58 390.25,319.48 390.30,319.63 390.35,318.21 390.40,318.47 390.45,317.60 390.50,316.09 390.55,316.33 390.60,315.44 390.65,314.84 390.70,314.01 390.75,313.69 390.80,312.80 390.85,312.50 390.90,312.25 390.95,311.76 391.00,311.04 391.05,310.33 391.10,309.54 391.15,308.67 391.20,307.69 391.25,307.97 391.30,306.77 391.35,306.44 391.40,305.21 391.45,305.39 391.50,305.22 391.55,304.04 391.60,303.91 391.65,302.93 391.70,302.53 391.75,301.77 391.80,300.34 391.85,301.19 391.90,300.79 391.95,300.40 392.00,300.47 392.05,299.72 392.10,299.13 392.15,298.26 392.20,299.49 392.25,297.26 392.30,297.37 392.35,297.02 392.40,297.44 392.45,296.84 392.50,296.69 392.55,295.44 392.60,295.79 392.65,296.31 392.70,295.46 392.75,294.98 392.80,295.52 392.85,295.07 392.90,295.27 392.95,295.38 393.00,294.74 393.05,295.15 393.10,295.78 393.15,295.07 393.20,295.14 393.25,295.04 393.30,295.54 393.35,295.74 393.40,295.24 393.45,295.85 393.50,296.72 393.55,295.42 393.60,296.83 393.65,297.02 393.70,296.19 393.75,296.41 393.80,297.19 393.85,298.38 393.90,297.81 393.95,298.46 394.00,298.86 394.05,299.16 394.10,300.48 394.15,300.14 394.20,299.93 394.25,301.02 394.30,301.63 394.35,301.38 394.40,302.44 394.45,302.63 394.50,302.86 394.55,303.58 394.60,304.86 394.65,305.01 394.70,304.95 394.75,306.53 394.80,306.68 394.85,306.17 394.90,307.55 394.95,307.62 395.00,308.95 395.05,310.94 395.10,311.25 395.15,311.15 395.20,311.31 395.25,311.79 395.30,312.58 395.35,313.59 395.40,314.60 395.45,314.74 395.50,315.82 395.55,315.88 395.60,315.73 395.65,317.23 395.70,318.07 395.75,318.48 395.80,319.23 395.85,319.03 395.90,319.83 395.95,320.48 396.00,321.14 396.05,321.75 396.10,322.42 396.15,322.43 396.20,322.71 396.25,323.43 396.30,324.01 396.35,324.41 396.40,324.71 396.45,325.81 396.50,326.30 396.55,326.75 396.60,327.11 396.65,327.46 396.70,327.54 396.75,327.97 396.80,328.60 396.85,328.27 396.90,329.35 396.95,328.99 397.00,330.61 397.05,330.56 397.10,330.49 397.15,331.02 397.20,331.19 397.25,332.16 397.30,332.32 397.35,332.29 397.40,332.39 397.45,333.01 397.50,333.18 397.55,333.34 397.60,333.44 397.65,333.36 397.70,333.65 397.75,334.07 397.80,334.01 397.85,334.43 397.90,335.47 397.95,335.12 398.00,335.51 398.05,335.30 398.10,336.05 398.15,335.85 398.20,336.21 398.25,336.46 398.30,336.42 398.35,337.01 398.40,336.30 398.45,336.61 398.50,336.98 398.55,336.93 398.60,337.22 398.65,337.83 398.70,337.22 398.75,337.49 398.80,337.36 398.85,337.36 398.90,337.14 398.95,337.92 399.00,338.27 399.05,337.96 399.10,338.37 399.15,337.71 399.20,338.11 399.25,338.19 399.30,338.51 399.35,338.37 399.40,338.57 399.45,338.89 399.50,338.20 399.55,338.54 399.60,338.74 399.65,338.49 399.70,338.83 399.75,338.27 399.80,338.53 399.85,338.78 399.90,338.38 399.95,339.55 400.00,339.51 400.10,339.40 400.20,339.35 400.30,339.44 400.40,339.16 400.50,339.22 400.60,338.76 400.70,339.65 400.80,339.38 400.90,338.91 401.00,339.26 401.10,339.67 401.20,339.10 401.40,339.46 401.70,339.07 402.00,339.61 402.30,339.77 402.60,339.15 402.90,339.65 403.20,340.03 403.50,339.86 403.80,340.48 404.10,340.42 404.40,340.60 404.70,340.04 405.00,340.08 405.30,340.39 405.60,340.40 405.90,340.06 406.20,340.10 406.50,339.84 406.80,339.93 407.10,340.12 407.40,340.42 407.70,340.29 408.00,340.49 408.30,340.38 408.60,340.62 408.90,340.68 409.20,340.08 409.50,340.54 409.80,340.36 410.10,340.46 410.40,340.30 410.70,340.00 411.00,340.07 411.30,340.24 411.60,339.62 411.90,340.19 412.20,340.35 412.50,340.46 412.80,340.29 413.10,340.22 413.40,340.39 413.70,340.25 414.00,340.79 414.30,340.46 414.60,340.48 414.90,340.77 415.20,340.54 415.50,340.54 415.80,340.86 416.10,340.79 416.40,340.45 416.70,340.17 417.00,340.38 417.30,340.73 417.60,340.15 417.90,340.48 418.20,340.49 418.50,340.02 418.80,340.70 419.10,340.30 419.40,340.08 419.70,340.35 420.00,340.87 420.30,341.25 420.60,340.98 420.90,340.97 421.20,340.89 421.50,341.40 421.80,341.28 422.10,340.43 422.40,340.81 422.70,340.90 423.00,340.67 423.30,340.92 423.60,341.05 423.90,340.70 424.20,341.37 424.50,341.04 424.80,341.28 425.10,341.05 425.40,340.94 425.70,341.34 426.00,341.09 426.30,341.44 426.60,341.19 426.90,341.64 427.20,340.85 427.50,341.10 427.80,340.89 428.10,340.81 428.40,341.04 428.70,340.47 429.00,340.72 429.30,340.98 429.60,340.80 429.90,340.60 430.20,340.78 430.50,341.14 430.80,341.42 431.10,340.88 431.40,340.94 431.70,341.00 432.00,340.78 432.30,340.97 432.60,340.99 432.90,341.31 433.20,340.84 433.50,341.00 433.80,341.03 434.10,340.70 434.40,340.76 434.70,340.85 435.00,340.57 435.30,340.94 435.60,340.87 435.90,341.15 436.20,341.08 436.50,341.12 436.80,341.43 437.10,341.55 437.40,341.39 437.70,340.87 438.00,341.10 438.30,340.60 438.60,341.05 438.90,341.12 439.20,340.85 439.50,340.98 439.80,341.21 440.10,341.18 440.40,340.82 440.70,340.76 441.00,340.50 441.30,340.86 441.60,340.79 441.90,340.95 442.20,341.11 442.50,340.59 442.80,340.80 443.10,340.94 443.40,340.63 443.70,341.04 444.00,340.88 444.30,341.02 444.60,341.02 444.90,340.94 445.20,340.64 445.50,340.76 445.80,340.73 446.10,340.94 446.40,340.18 446.70,340.73 447.00,340.71 447.30,341.06 447.60,341.43 447.90,341.17 448.20,341.11 448.50,340.85 448.80,341.09 449.10,341.04 449.40,340.67 449.70,341.07 450.00,340.74 450.30,340.27 450.60,340.78 450.90,340.96 451.20,340.93 451.50,340.84 451.80,340.75 452.10,340.91 452.40,340.85 452.70,340.16 453.00,340.49 453.30,340.76 453.60,340.77 453.90,341.07 454.20,341.13 454.50,340.84 454.80,340.63 455.10,341.13 455.40,340.37 455.70,340.66 456.00,341.32 456.30,341.03 456.60,341.11 456.90,340.98 457.20,341.31 457.50,341.78 457.80,341.09 458.10,340.93 458.40,341.26 458.70,341.42 459.00,340.96 459.30,340.60 459.60,340.99 459.90,340.76 460.20,341.31 460.50,341.07 460.80,341.29 461.10,341.16 461.40,341.35 461.70,340.57 462.00,341.19 462.30,341.12 462.60,341.13 462.90,340.63 463.20,341.36 463.50,340.78 463.80,341.04 464.10,340.73 464.40,340.77 464.70,340.69 465.00,340.38 465.30,340.65 465.60,341.18 465.90,340.52 466.20,340.85 466.50,340.33 466.80,341.08 467.10,340.40 467.40,340.42 467.70,340.64 468.00,340.79 468.30,340.24 468.60,340.61 468.90,340.87 469.20,340.82 469.50,340.70 469.80,341.10 470.10,341.31 470.40,341.67 470.70,341.42 471.00,340.65 471.30,341.36 471.60,341.19 471.90,340.89 472.20,340.89 472.50,341.03 472.80,340.74 473.10,340.56 473.40,340.91 473.70,341.21 474.00,340.85 474.30,340.80 474.60,340.61 474.90,341.07 475.20,340.65 475.50,340.90 475.80,340.77 476.10,341.34 476.40,341.29 476.70,341.67 477.00,340.88 477.30,340.83 477.60,341.19 477.90,340.75 478.20,341.00 478.50,341.33 478.80,341.17 479.10,341.31 479.40,340.81 479.70,340.81 480.00,340.83 480.30,341.11 480.60,341.25 480.90,341.34 481.20,341.11 481.50,340.91 481.80,340.94 482.10,341.00 482.40,340.53 482.70,340.64 483.00,340.32 483.30,340.78 483.60,340.66 483.90,340.25 484.20,340.87 484.50,340.85 484.80,341.00 485.10,341.42 485.40,341.44 485.70,340.97 486.00,340.98 486.30,340.69 486.60,341.15 486.90,340.94 487.20,341.20 487.50,340.74 487.80,340.60 488.10,341.27 488.40,341.27 488.70,340.72 489.00,341.48 489.30,341.03 489.60,341.60 489.90,341.28 490.20,340.94 490.50,341.00 490.80,340.98 491.10,340.18 491.40,341.11 491.70,340.80 492.00,341.10 492.30,340.16 492.60,341.16 492.90,341.00 493.20,340.72 493.50,341.56 493.80,341.26 494.10,340.78 494.40,340.83 494.70,341.18 495.00,341.48 495.30,341.11 495.60,340.83 495.90,341.37 496.20,340.62 496.50,341.04 496.80,340.76 497.10,340.52 497.40,340.50 497.70,340.63 498.00,340.89 498.30,341.39 498.60,340.95 498.90,340.68 499.20,341.23 499.50,341.10 499.80,340.82 500.10,341.13 500.40,340.84 500.70,341.28 501.00,340.77 501.30,340.65 501.60,340.78 501.90,340.98 502.20,341.04 502.50,340.94 502.80,341.04 503.10,340.93 503.40,341.23 503.70,341.75 504.00,341.10 504.30,340.74 504.60,340.67 504.90,340.56 505.20,340.81 505.50,340.68 505.80,341.29 506.10,340.82 506.40,340.89 506.70,341.28 507.00,340.79 507.30,341.06 507.60,340.63 507.90,340.89 508.20,341.26 508.50,340.42 508.80,340.83 509.10,340.44 509.40,340.79 509.70,340.67 510.00,340.94 510.30,340.64 510.60,340.45 510.90,341.24 511.20,341.17 511.50,341.50 511.80,341.17 512.10,341.11 512.40,340.82 512.70,340.66 513.00,341.07 513.30,340.72 513.60,341.42 513.90,341.43 514.20,341.23 514.50,341.46 514.80,341.14 515.10,341.06 515.40,341.86 515.70,341.10 516.00,341.48 516.30,340.88 516.60,341.17 516.90,341.25 517.20,340.51 517.50,340.50 517.80,340.67 518.10,340.75 518.40,340.85 518.70,340.61 519.00,340.60 519.30,340.53 519.60,340.56 519.90,340.97 520.20,340.76 520.50,340.63 520.80,340.64 521.10,340.77 521.40,340.58 521.70,341.10 522.00,341.13 522.30,340.62 522.60,340.81 522.90,340.82 523.20,341.14 523.50,340.72 523.80,340.83 524.10,340.65 524.40,340.66 524.70,340.73 525.00,341.80 525.30,341.20 525.60,340.97 525.90,340.94 526.20,340.43 526.50,340.57 526.80,341.04 527.10,340.82 527.40,341.10 527.70,340.78 528.00,340.91 528.30,340.79 528.60,340.92 528.90,340.89 529.20,341.11 529.50,340.68 529.80,340.88 530.10,340.87 530.40,341.18 530.70,341.42 531.00,341.34 531.30,340.75 531.60,341.06 531.90,341.07 532.20,341.11 532.50,341.04 532.80,341.13 533.10,341.50 533.40,341.42 533.70,341.59 534.00,340.69 534.30,340.80 534.60,340.68 534.90,341.28 535.20,341.19 535.50,340.82 535.80,340.82 536.10,341.05 536.40,341.38 536.70,341.49 537.00,340.93 537.30,341.40 537.60,341.04 537.90,341.48 538.20,341.71 538.50,341.09 538.80,341.13 539.10,340.32 539.40,341.26 539.70,340.69 540.00,341.03 540.30,341.39 540.60,340.67 540.90,341.72 541.20,340.86 541.50,341.26 541.80,340.93 542.10,341.30 542.40,340.97 542.70,341.08 543.00,340.38 543.30,341.22 543.60,341.08 543.90,340.78 544.20,340.91 544.50,340.81 544.80,341.02 545.10,341.41 545.40,341.36 545.70,341.41 546.00,341.45 546.30,341.33 546.60,341.16 546.90,341.16 547.20,341.03 547.50,341.45 547.80,340.90 548.10,340.82 548.40,341.07 548.70,340.51 549.00,340.76 549.30,340.42 549.60,340.61 549.90,341.82 550.20,340.40 550.50,341.17 550.80,340.79 551.10,340.70 551.40,340.67 551.70,341.26 552.00,340.88 552.30,340.88 552.60,341.23 552.90,340.29 553.20,340.20 553.50,340.97 553.80,341.44 554.10,341.24 554.40,341.57 554.70,341.41 555.00,341.11 555.30,340.72 555.60,340.94 555.90,341.29 556.20,341.18 556.50,341.11 556.80,341.29 557.10,341.11 557.40,341.27 557.70,340.90 558.00,341.35 558.30,341.00 558.60,340.97 558.90,340.45 559.20,340.37 559.50,340.94 559.80,340.87 560.10,341.54 560.40,340.80 560.70,340.75 561.00,341.27 561.30,340.52 561.60,341.15 561.90,340.80 562.20,340.35 562.50,340.54" stroke="#000" stroke-width="1.4" fill="none" stroke-linejoin="round" clip-path="url(#cpa)"/>
<text x="188.6" y="27.6" font-size="11.2" fill="#3a43a0" stroke="#3a43a0" stroke-width="0.26" font-family="'Liberation Sans', sans-serif" textLength="80.0" lengthAdjust="spacingAndGlyphs">70% duty cycle,</text>
<text x="188.6" y="42.8" font-size="11.2" fill="#3a43a0" stroke="#3a43a0" stroke-width="0.26" font-family="'Liberation Sans', sans-serif" textLength="71.1" lengthAdjust="spacingAndGlyphs">100V, 100kHz</text>
<text x="188.6" y="112.0" font-size="11.2" fill="#3a43a0" stroke="#3a43a0" stroke-width="0.26" font-family="'Liberation Sans', sans-serif" textLength="80.0" lengthAdjust="spacingAndGlyphs">50% duty cycle,</text>
<text x="188.6" y="127.6" font-size="11.2" fill="#3a43a0" stroke="#3a43a0" stroke-width="0.26" font-family="'Liberation Sans', sans-serif" textLength="71.1" lengthAdjust="spacingAndGlyphs">100V, 100kHz</text>
<text x="188.6" y="196.6" font-size="11.2" fill="#3a43a0" stroke="#3a43a0" stroke-width="0.26" font-family="'Liberation Sans', sans-serif" textLength="80.0" lengthAdjust="spacingAndGlyphs">30% duty cycle,</text>
<text x="188.6" y="212.2" font-size="11.2" fill="#3a43a0" stroke="#3a43a0" stroke-width="0.26" font-family="'Liberation Sans', sans-serif" textLength="71.1" lengthAdjust="spacingAndGlyphs">100V, 100kHz</text>
<text x="198.3" y="290.1" font-size="11.2" fill="#3a43a0" stroke="#3a43a0" stroke-width="0.26" font-family="'Liberation Sans', sans-serif" textLength="49.4" lengthAdjust="spacingAndGlyphs">substrate</text>
<text x="314.4" y="15.8" font-size="12.3" fill="#000" stroke="#000" stroke-width="0.15" font-family="'Liberation Sans', sans-serif" textLength="27.0" lengthAdjust="spacingAndGlyphs">(111)</text>
<text x="399.6" y="21.2" font-size="12.3" fill="#000" stroke="#000" stroke-width="0.15" font-family="'Liberation Sans', sans-serif" textLength="27.0" lengthAdjust="spacingAndGlyphs">(200)</text>
<text x="314.4" y="102.0" font-size="12.3" fill="#000" stroke="#000" stroke-width="0.15" font-family="'Liberation Sans', sans-serif" textLength="27.0" lengthAdjust="spacingAndGlyphs">(111)</text>
<text x="399.1" y="122.5" font-size="12.3" fill="#000" stroke="#000" stroke-width="0.15" font-family="'Liberation Sans', sans-serif" textLength="27.0" lengthAdjust="spacingAndGlyphs">(200)</text>
<text x="315.1" y="186.5" font-size="12.3" fill="#000" stroke="#000" stroke-width="0.15" font-family="'Liberation Sans', sans-serif" textLength="27.0" lengthAdjust="spacingAndGlyphs">(111)</text>
<text x="400.1" y="213.2" font-size="12.3" fill="#000" stroke="#000" stroke-width="0.15" font-family="'Liberation Sans', sans-serif" textLength="27.0" lengthAdjust="spacingAndGlyphs">(200)</text>
<text x="314.1" y="271.8" font-size="12.3" fill="#000" stroke="#000" stroke-width="0.15" font-family="'Liberation Sans', sans-serif" textLength="27.0" lengthAdjust="spacingAndGlyphs">(111)</text>
<text x="400.2" y="304.4" font-size="12.3" fill="#000" stroke="#000" stroke-width="0.15" font-family="'Liberation Sans', sans-serif" textLength="27.0" lengthAdjust="spacingAndGlyphs">(200)</text>
<text x="135.4" y="23.8" font-size="10" fill="#c0323d" stroke="#c0323d" stroke-width="0.12" font-family="'Liberation Sans', sans-serif" text-anchor="middle" textLength="7.4" lengthAdjust="spacingAndGlyphs">R</text>
<text x="122.2" y="35.3" font-size="12" fill="#c0323d" stroke="#c0323d" stroke-width="0.26" font-family="'Liberation Sans', sans-serif" textLength="26.7" lengthAdjust="spacingAndGlyphs">(110)</text>
<text x="215.5" y="63.2" font-size="10" fill="#c0323d" stroke="#c0323d" stroke-width="0.12" font-family="'Liberation Sans', sans-serif" text-anchor="middle" textLength="7.4" lengthAdjust="spacingAndGlyphs">R</text>
<text x="201.2" y="74.4" font-size="12" fill="#c0323d" stroke="#c0323d" stroke-width="0.26" font-family="'Liberation Sans', sans-serif" textLength="27.5" lengthAdjust="spacingAndGlyphs">(101)</text>
<text x="250.9" y="63.2" font-size="10" fill="#c0323d" stroke="#c0323d" stroke-width="0.12" font-family="'Liberation Sans', sans-serif" text-anchor="middle" textLength="7.4" lengthAdjust="spacingAndGlyphs">R</text>
<text x="235.0" y="74.4" font-size="12" fill="#c0323d" stroke="#c0323d" stroke-width="0.26" font-family="'Liberation Sans', sans-serif" textLength="27.8" lengthAdjust="spacingAndGlyphs">(200)</text>
<text x="279.8" y="63.2" font-size="10" fill="#c0323d" stroke="#c0323d" stroke-width="0.12" font-family="'Liberation Sans', sans-serif" text-anchor="middle" textLength="7.4" lengthAdjust="spacingAndGlyphs">R</text>
<text x="265.9" y="74.4" font-size="12" fill="#c0323d" stroke="#c0323d" stroke-width="0.26" font-family="'Liberation Sans', sans-serif" textLength="27.2" lengthAdjust="spacingAndGlyphs">(111)</text>
<text x="431.7" y="58.3" font-size="10" fill="#c0323d" stroke="#c0323d" stroke-width="0.12" font-family="'Liberation Sans', sans-serif" text-anchor="middle" textLength="7.4" lengthAdjust="spacingAndGlyphs">R</text>
<text x="418.2" y="70.1" font-size="12" fill="#c0323d" stroke="#c0323d" stroke-width="0.26" font-family="'Liberation Sans', sans-serif" textLength="26.7" lengthAdjust="spacingAndGlyphs">(211)</text>
<text x="464.9" y="58.3" font-size="10" fill="#c0323d" stroke="#c0323d" stroke-width="0.12" font-family="'Liberation Sans', sans-serif" text-anchor="middle" textLength="7.4" lengthAdjust="spacingAndGlyphs">R</text>
<text x="450.3" y="70.1" font-size="12" fill="#c0323d" stroke="#c0323d" stroke-width="0.26" font-family="'Liberation Sans', sans-serif" textLength="27.6" lengthAdjust="spacingAndGlyphs">(220)</text>
<text x="135.7" y="122.2" font-size="10" fill="#c0323d" stroke="#c0323d" stroke-width="0.12" font-family="'Liberation Sans', sans-serif" text-anchor="middle" textLength="7.4" lengthAdjust="spacingAndGlyphs">R</text>
<text x="121.3" y="134.7" font-size="12" fill="#c0323d" stroke="#c0323d" stroke-width="0.26" font-family="'Liberation Sans', sans-serif" textLength="27.2" lengthAdjust="spacingAndGlyphs">(110)</text>
<text x="211.4" y="147.7" font-size="10" fill="#c0323d" stroke="#c0323d" stroke-width="0.12" font-family="'Liberation Sans', sans-serif" text-anchor="middle" textLength="7.4" lengthAdjust="spacingAndGlyphs">R</text>
<text x="196.7" y="158.6" font-size="12" fill="#c0323d" stroke="#c0323d" stroke-width="0.26" font-family="'Liberation Sans', sans-serif" textLength="27.3" lengthAdjust="spacingAndGlyphs">(101)</text>
<text x="247.7" y="147.7" font-size="10" fill="#c0323d" stroke="#c0323d" stroke-width="0.12" font-family="'Liberation Sans', sans-serif" text-anchor="middle" textLength="7.4" lengthAdjust="spacingAndGlyphs">R</text>
<text x="232.0" y="158.6" font-size="12" fill="#c0323d" stroke="#c0323d" stroke-width="0.26" font-family="'Liberation Sans', sans-serif" textLength="27.8" lengthAdjust="spacingAndGlyphs">(200)</text>
<text x="279.0" y="147.7" font-size="10" fill="#c0323d" stroke="#c0323d" stroke-width="0.12" font-family="'Liberation Sans', sans-serif" text-anchor="middle" textLength="7.4" lengthAdjust="spacingAndGlyphs">R</text>
<text x="264.7" y="158.6" font-size="12" fill="#c0323d" stroke="#c0323d" stroke-width="0.26" font-family="'Liberation Sans', sans-serif" textLength="26.5" lengthAdjust="spacingAndGlyphs">(111)</text>
<text x="426.5" y="144.6" font-size="10" fill="#c0323d" stroke="#c0323d" stroke-width="0.12" font-family="'Liberation Sans', sans-serif" text-anchor="middle" textLength="7.4" lengthAdjust="spacingAndGlyphs">R</text>
<text x="412.7" y="156.9" font-size="12" fill="#c0323d" stroke="#c0323d" stroke-width="0.26" font-family="'Liberation Sans', sans-serif" textLength="27.0" lengthAdjust="spacingAndGlyphs">(211)</text>
<text x="460.2" y="144.6" font-size="10" fill="#c0323d" stroke="#c0323d" stroke-width="0.12" font-family="'Liberation Sans', sans-serif" text-anchor="middle" textLength="7.4" lengthAdjust="spacingAndGlyphs">R</text>
<text x="446.4" y="156.9" font-size="12" fill="#c0323d" stroke="#c0323d" stroke-width="0.26" font-family="'Liberation Sans', sans-serif" textLength="27.8" lengthAdjust="spacingAndGlyphs">(220)</text>
<text x="93.6" y="222.5" font-size="10" fill="#33a852" stroke="#33a852" stroke-width="0.12" font-family="'Liberation Sans', sans-serif" text-anchor="middle" textLength="7.4" lengthAdjust="spacingAndGlyphs">A</text>
<text x="81.4" y="236.0" font-size="12" fill="#33a852" stroke="#33a852" stroke-width="0.26" font-family="'Liberation Sans', sans-serif" textLength="24.1" lengthAdjust="spacingAndGlyphs">(101)</text>
<text x="134.0" y="222.5" font-size="10" fill="#c0323d" stroke="#c0323d" stroke-width="0.12" font-family="'Liberation Sans', sans-serif" text-anchor="middle" textLength="7.4" lengthAdjust="spacingAndGlyphs">R</text>
<text x="119.8" y="234.5" font-size="12" fill="#c0323d" stroke="#c0323d" stroke-width="0.26" font-family="'Liberation Sans', sans-serif" textLength="27.3" lengthAdjust="spacingAndGlyphs">(110)</text>
<text x="162.50" y="274.2" font-size="9.2" text-anchor="middle" fill="#888888" font-family="'Liberation Mono', monospace" transform="translate(32.50,0) scale(0.8,1)">%</text>
<text x="91.20 98.33 112.59 119.72 126.85 133.98 141.11 148.24" y="274.5" font-size="10.4" text-anchor="middle" fill="#8b8b8b" font-family="'Liberation Mono', monospace">Cr14.320</text>
<text x="162.50" y="285.9" font-size="9.2" text-anchor="middle" fill="#888888" font-family="'Liberation Mono', monospace" transform="translate(32.50,0) scale(0.8,1)">%</text>
<text x="91.20 98.33 112.59 119.72 126.85 133.98 141.11 148.24" y="286.2" font-size="10.4" text-anchor="middle" fill="#8b8b8b" font-family="'Liberation Mono', monospace">Mn10.241</text>
<text x="162.50" y="297.6" font-size="9.2" text-anchor="middle" fill="#888888" font-family="'Liberation Mono', monospace" transform="translate(32.50,0) scale(0.8,1)">%</text>
<text x="91.20 98.33 112.59 119.72 126.85 133.98 141.11 148.24" y="297.9" font-size="10.4" text-anchor="middle" fill="#8b8b8b" font-family="'Liberation Mono', monospace">Fe73.292</text>
<text x="162.50" y="309.3" font-size="9.2" text-anchor="middle" fill="#888888" font-family="'Liberation Mono', monospace" transform="translate(32.50,0) scale(0.8,1)">%</text>
<text x="91.20 98.33 119.72 126.85 133.98 141.11 148.24" y="309.6" font-size="10.4" text-anchor="middle" fill="#8b8b8b" font-family="'Liberation Mono', monospace">Ni1.398</text>
<text x="162.50" y="321.0" font-size="9.2" text-anchor="middle" fill="#888888" font-family="'Liberation Mono', monospace" transform="translate(32.50,0) scale(0.8,1)">%</text>
<text x="91.20 98.33 119.72 126.85 133.98 141.11 148.24" y="321.3" font-size="10.4" text-anchor="middle" fill="#8b8b8b" font-family="'Liberation Mono', monospace">Cu0.729</text>
<text x="162.50" y="332.7" font-size="9.2" text-anchor="middle" fill="#888888" font-family="'Liberation Mono', monospace" transform="translate(32.50,0) scale(0.8,1)">%</text>
<text x="91.20 98.33 119.72 126.85 133.98 141.11 148.24" y="333.0" font-size="10.4" text-anchor="middle" fill="#8b8b8b" font-family="'Liberation Mono', monospace">Se0.021</text>
<rect x="521.5" y="28.5" width="30" height="23" rx="0.8" fill="#fff" stroke="#8f8f8f" stroke-width="1"/>
<text x="536.3" y="44.3" font-size="15.6" fill="#111" text-anchor="middle" font-family="'Liberation Serif', serif">d</text>
<rect x="521.5" y="114.5" width="30" height="23" rx="0.8" fill="#fff" stroke="#8f8f8f" stroke-width="1"/>
<text x="536.3" y="130.7" font-size="15.6" fill="#111" text-anchor="middle" font-family="'Liberation Serif', serif">c</text>
<rect x="521.5" y="198.5" width="30" height="23" rx="0.8" fill="#fff" stroke="#8f8f8f" stroke-width="1"/>
<text x="536.3" y="214.5" font-size="15.6" fill="#111" text-anchor="middle" font-family="'Liberation Serif', serif">b</text>
<rect x="521.5" y="291.5" width="30" height="23" rx="0.8" fill="#fff" stroke="#8f8f8f" stroke-width="1"/>
<text x="536.3" y="308.4" font-size="15.6" fill="#111" text-anchor="middle" font-family="'Liberation Serif', serif">a</text>
<text x="30.0" y="374.9" font-size="14" fill="#000" stroke="#000" stroke-width="0.05" font-family="'Liberation Sans', sans-serif" text-anchor="middle">20</text>
<text x="148.5" y="374.9" font-size="14" fill="#000" stroke="#000" stroke-width="0.05" font-family="'Liberation Sans', sans-serif" text-anchor="middle">30</text>
<text x="267.0" y="374.9" font-size="14" fill="#000" stroke="#000" stroke-width="0.05" font-family="'Liberation Sans', sans-serif" text-anchor="middle">40</text>
<text x="385.5" y="374.9" font-size="14" fill="#000" stroke="#000" stroke-width="0.05" font-family="'Liberation Sans', sans-serif" text-anchor="middle">50</text>
<text x="504.0" y="374.9" font-size="14" fill="#000" stroke="#000" stroke-width="0.05" font-family="'Liberation Sans', sans-serif" text-anchor="middle">60</text>
<text x="271.6" y="396.5" font-size="14.5" fill="#000" stroke="#000" stroke-width="0.05" font-family="'Liberation Sans', sans-serif" textLength="16.0" lengthAdjust="spacingAndGlyphs">2θ</text>
<text x="294.4" y="396.5" font-size="14.5" fill="#000" stroke="#000" stroke-width="0.05" font-family="'Liberation Sans', sans-serif" textLength="54.6" lengthAdjust="spacingAndGlyphs">(degree)</text>
<text transform="translate(14.2,215.0) rotate(-90)" font-size="14.5" fill="#000" stroke="#000" stroke-width="0.05" font-family="'Liberation Sans', sans-serif" textLength="94.2" lengthAdjust="spacingAndGlyphs">Intensity (p.u.)</text>
</svg>
</body></html>
